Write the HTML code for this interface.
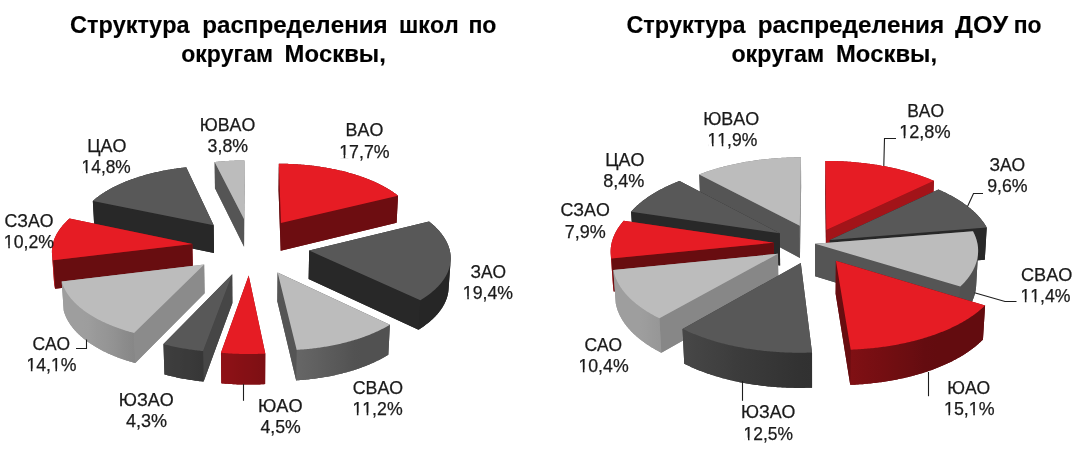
<!DOCTYPE html>
<html><head><meta charset="utf-8"><style>
html,body{margin:0;padding:0;background:#fff;width:1077px;height:449px;overflow:hidden}
svg{position:absolute;left:0;top:0;will-change:transform;font-kerning:none}
svg text{font-family:"Liberation Sans",sans-serif;font-size:17.7px;fill:#1a1a1a;stroke:#1a1a1a;stroke-width:0.25px}
svg text.b{font-size:24px;font-weight:bold;fill:#000;stroke:#000;stroke-width:0.15px}
svg polyline{fill:none;stroke:#1e1e1e;stroke-width:1.1}
</style></head><body>
<svg width="1077" height="449" viewBox="0 0 1077 449">
<defs><linearGradient id="g1" gradientUnits="userSpaceOnUse" x1="52.0" y1="0" x2="53.1" y2="0"><stop offset="0.000" stop-color="#c1171e"/><stop offset="0.041" stop-color="#c1171e"/><stop offset="0.092" stop-color="#c1171e"/><stop offset="0.153" stop-color="#c1181e"/><stop offset="0.224" stop-color="#c1181e"/><stop offset="0.305" stop-color="#c1181e"/><stop offset="0.396" stop-color="#c1181e"/><stop offset="0.497" stop-color="#c1181e"/><stop offset="0.608" stop-color="#c1181e"/><stop offset="0.728" stop-color="#c1181e"/><stop offset="0.859" stop-color="#c1181e"/><stop offset="1.000" stop-color="#c1181e"/></linearGradient><linearGradient id="g2" gradientUnits="userSpaceOnUse" x1="61.7" y1="0" x2="134.0" y2="0"><stop offset="0.000" stop-color="#9e9e9e"/><stop offset="0.031" stop-color="#9e9e9e"/><stop offset="0.072" stop-color="#9e9e9e"/><stop offset="0.126" stop-color="#9e9e9e"/><stop offset="0.200" stop-color="#9e9e9e"/><stop offset="0.280" stop-color="#9e9e9e"/><stop offset="0.371" stop-color="#9d9d9d"/><stop offset="0.474" stop-color="#999999"/><stop offset="0.600" stop-color="#969696"/><stop offset="0.725" stop-color="#929292"/><stop offset="0.858" stop-color="#8c8c8c"/><stop offset="1.000" stop-color="#878787"/></linearGradient><linearGradient id="g3" gradientUnits="userSpaceOnUse" x1="163.5" y1="0" x2="203.1" y2="0"><stop offset="0.000" stop-color="#3f3f3f"/><stop offset="0.091" stop-color="#3e3e3e"/><stop offset="0.184" stop-color="#3d3d3d"/><stop offset="0.278" stop-color="#3c3c3c"/><stop offset="0.373" stop-color="#3c3c3c"/><stop offset="0.470" stop-color="#3b3b3b"/><stop offset="0.535" stop-color="#3a3a3a"/><stop offset="0.633" stop-color="#3a3a3a"/><stop offset="0.732" stop-color="#393939"/><stop offset="0.832" stop-color="#383838"/><stop offset="0.932" stop-color="#373737"/><stop offset="1.000" stop-color="#373737"/></linearGradient><linearGradient id="g4" gradientUnits="userSpaceOnUse" x1="420.4" y1="0" x2="450.6" y2="0"><stop offset="0.000" stop-color="#262626"/><stop offset="0.178" stop-color="#262626"/><stop offset="0.317" stop-color="#262626"/><stop offset="0.464" stop-color="#262626"/><stop offset="0.576" stop-color="#262626"/><stop offset="0.676" stop-color="#262626"/><stop offset="0.775" stop-color="#262626"/><stop offset="0.846" stop-color="#262626"/><stop offset="0.904" stop-color="#262626"/><stop offset="0.955" stop-color="#262626"/><stop offset="0.984" stop-color="#262626"/><stop offset="1.000" stop-color="#262626"/></linearGradient><linearGradient id="g5" gradientUnits="userSpaceOnUse" x1="296.7" y1="0" x2="389.9" y2="0"><stop offset="0.000" stop-color="#666666"/><stop offset="0.115" stop-color="#636363"/><stop offset="0.215" stop-color="#606060"/><stop offset="0.326" stop-color="#5c5c5c"/><stop offset="0.420" stop-color="#595959"/><stop offset="0.512" stop-color="#565656"/><stop offset="0.613" stop-color="#525252"/><stop offset="0.697" stop-color="#515151"/><stop offset="0.777" stop-color="#515151"/><stop offset="0.864" stop-color="#515151"/><stop offset="0.934" stop-color="#515151"/><stop offset="1.000" stop-color="#515151"/></linearGradient><linearGradient id="g6" gradientUnits="userSpaceOnUse" x1="221.0" y1="0" x2="265.3" y2="0"><stop offset="0.000" stop-color="#8f1116"/><stop offset="0.090" stop-color="#8d1116"/><stop offset="0.180" stop-color="#8c1116"/><stop offset="0.271" stop-color="#8a1116"/><stop offset="0.362" stop-color="#881115"/><stop offset="0.453" stop-color="#871015"/><stop offset="0.544" stop-color="#851015"/><stop offset="0.635" stop-color="#841015"/><stop offset="0.727" stop-color="#821014"/><stop offset="0.818" stop-color="#801014"/><stop offset="0.909" stop-color="#7f0f14"/><stop offset="1.000" stop-color="#7d0f14"/></linearGradient><linearGradient id="g7" gradientUnits="userSpaceOnUse" x1="610.7" y1="0" x2="611.3" y2="0"><stop offset="0.000" stop-color="#c1171e"/><stop offset="0.107" stop-color="#c1171e"/><stop offset="0.238" stop-color="#c1181e"/><stop offset="0.393" stop-color="#c1181e"/><stop offset="0.571" stop-color="#c1181e"/><stop offset="0.774" stop-color="#c1181e"/><stop offset="1.000" stop-color="#c1181e"/></linearGradient><linearGradient id="g8" gradientUnits="userSpaceOnUse" x1="613.4" y1="0" x2="659.4" y2="0"><stop offset="0.000" stop-color="#9e9e9e"/><stop offset="0.027" stop-color="#9e9e9e"/><stop offset="0.067" stop-color="#9e9e9e"/><stop offset="0.122" stop-color="#9e9e9e"/><stop offset="0.191" stop-color="#9e9e9e"/><stop offset="0.273" stop-color="#9e9e9e"/><stop offset="0.355" stop-color="#9e9e9e"/><stop offset="0.462" stop-color="#9e9e9e"/><stop offset="0.584" stop-color="#9e9e9e"/><stop offset="0.718" stop-color="#9c9c9c"/><stop offset="0.865" stop-color="#999999"/><stop offset="1.000" stop-color="#979797"/></linearGradient><linearGradient id="g9" gradientUnits="userSpaceOnUse" x1="960.2" y1="0" x2="978.1" y2="0"><stop offset="0.000" stop-color="#515151"/><stop offset="0.179" stop-color="#515151"/><stop offset="0.341" stop-color="#515151"/><stop offset="0.458" stop-color="#515151"/><stop offset="0.588" stop-color="#515151"/><stop offset="0.680" stop-color="#515151"/><stop offset="0.778" stop-color="#515151"/><stop offset="0.844" stop-color="#515151"/><stop offset="0.910" stop-color="#515151"/><stop offset="0.950" stop-color="#515151"/><stop offset="0.985" stop-color="#515151"/><stop offset="1.000" stop-color="#515151"/></linearGradient><linearGradient id="g10" gradientUnits="userSpaceOnUse" x1="850.7" y1="0" x2="985.1" y2="0"><stop offset="0.000" stop-color="#801014"/><stop offset="0.117" stop-color="#7a0f13"/><stop offset="0.232" stop-color="#750e12"/><stop offset="0.343" stop-color="#6f0e11"/><stop offset="0.450" stop-color="#6a0d11"/><stop offset="0.552" stop-color="#640c10"/><stop offset="0.647" stop-color="#630c0f"/><stop offset="0.736" stop-color="#630c0f"/><stop offset="0.816" stop-color="#630c0f"/><stop offset="0.888" stop-color="#630c0f"/><stop offset="0.951" stop-color="#630c0f"/><stop offset="1.000" stop-color="#630c0f"/></linearGradient><linearGradient id="g11" gradientUnits="userSpaceOnUse" x1="682.6" y1="0" x2="812.0" y2="0"><stop offset="0.000" stop-color="#474747"/><stop offset="0.080" stop-color="#454545"/><stop offset="0.156" stop-color="#434343"/><stop offset="0.237" stop-color="#414141"/><stop offset="0.322" stop-color="#3f3f3f"/><stop offset="0.410" stop-color="#3c3c3c"/><stop offset="0.514" stop-color="#3a3a3a"/><stop offset="0.608" stop-color="#383838"/><stop offset="0.705" stop-color="#363636"/><stop offset="0.803" stop-color="#343434"/><stop offset="0.901" stop-color="#323232"/><stop offset="1.000" stop-color="#313131"/></linearGradient></defs>
<polygon points="244.54,186.70 244.07,246.78 214.98,188.29 214.64,161.99 215.69,161.88 216.75,161.77 217.80,161.67 218.86,161.58 219.91,161.48 220.97,161.39 222.03,161.31 223.09,161.23 224.16,161.15 225.22,161.08 226.28,161.01 227.35,160.94 228.42,160.88 229.48,160.82 230.55,160.77 231.62,160.72 232.69,160.68 233.76,160.63 234.83,160.60 235.90,160.56 236.97,160.53 238.05,160.51 239.12,160.49 240.19,160.47 241.26,160.45 242.34,160.44 243.41,160.44 244.48,160.44" fill="#767676"/>
<polygon points="244.00,219.11 214.64,161.99 214.98,188.29 244.07,246.78" fill="#555555"/>
<polygon points="244.00,219.11 244.48,160.44 244.54,186.70 244.07,246.78" fill="#969696"/>
<polygon points="244.00,219.11 214.64,161.99 215.69,161.88 216.75,161.77 217.80,161.67 218.86,161.58 219.91,161.48 220.97,161.39 222.03,161.31 223.09,161.23 224.16,161.15 225.22,161.08 226.28,161.01 227.35,160.94 228.42,160.88 229.48,160.82 230.55,160.77 231.62,160.72 232.69,160.68 233.76,160.63 234.83,160.60 235.90,160.56 236.97,160.53 238.05,160.51 239.12,160.49 240.19,160.47 241.26,160.45 242.34,160.44 243.41,160.44 244.48,160.44" fill="#bcbcbc"/>
<polygon points="94.36,228.16 92.83,200.92 93.38,200.44 93.94,199.96 94.50,199.48 95.08,199.01 95.66,198.53 96.25,198.07 96.84,197.60 97.45,197.13 98.06,196.67 98.68,196.21 99.31,195.76 99.95,195.30 100.59,194.85 101.24,194.40 101.90,193.96 102.56,193.51 103.24,193.07 103.92,192.63 104.61,192.20 105.30,191.77 106.00,191.34 106.71,190.91 107.43,190.49 108.15,190.07 108.88,189.65 109.62,189.24 110.36,188.83 111.11,188.42 111.86,188.01 112.63,187.61 113.40,187.21 114.17,186.82 114.96,186.43 115.75,186.04 116.54,185.65 117.34,185.27 118.15,184.89 118.96,184.51 119.78,184.14 120.61,183.77 121.44,183.40 122.28,183.04 123.12,182.68 123.97,182.32 124.82,181.97 125.68,181.62 126.55,181.27 127.42,180.93 128.30,180.59 129.18,180.26 130.07,179.92 130.96,179.60 131.86,179.27 132.76,178.95 133.67,178.63 134.58,178.32 135.50,178.01 136.42,177.70 137.35,177.39 138.28,177.09 139.21,176.80 140.16,176.51 141.10,176.22 142.05,175.93 143.01,175.65 143.96,175.37 144.93,175.10 145.90,174.83 146.87,174.56 147.84,174.30 148.82,174.04 149.81,173.78 150.79,173.53 151.78,173.28 152.78,173.04 153.78,172.80 154.78,172.56 155.79,172.33 156.80,172.10 157.81,171.88 158.83,171.66 159.84,171.44 160.87,171.23 161.89,171.02 162.92,170.82 163.95,170.61 164.99,170.42 166.03,170.22 167.07,170.04 168.11,169.85 169.16,169.67 170.21,169.49 171.26,169.32 172.31,169.15 173.37,168.99 174.43,168.83 175.49,168.67 176.55,168.52 177.62,168.37 178.69,168.22 179.76,168.08 180.83,167.94 181.90,167.81 182.98,167.68 184.06,167.56 185.14,167.44 186.22,167.32 213.67,225.27 214.04,253.08" fill="#282828"/>
<polygon points="213.67,225.27 92.83,200.92 94.36,228.16 214.04,253.08" fill="#282828"/>
<polygon points="213.67,225.27 92.83,200.92 93.38,200.44 93.94,199.96 94.50,199.48 95.08,199.01 95.66,198.53 96.25,198.07 96.84,197.60 97.45,197.13 98.06,196.67 98.68,196.21 99.31,195.76 99.95,195.30 100.59,194.85 101.24,194.40 101.90,193.96 102.56,193.51 103.24,193.07 103.92,192.63 104.61,192.20 105.30,191.77 106.00,191.34 106.71,190.91 107.43,190.49 108.15,190.07 108.88,189.65 109.62,189.24 110.36,188.83 111.11,188.42 111.86,188.01 112.63,187.61 113.40,187.21 114.17,186.82 114.96,186.43 115.75,186.04 116.54,185.65 117.34,185.27 118.15,184.89 118.96,184.51 119.78,184.14 120.61,183.77 121.44,183.40 122.28,183.04 123.12,182.68 123.97,182.32 124.82,181.97 125.68,181.62 126.55,181.27 127.42,180.93 128.30,180.59 129.18,180.26 130.07,179.92 130.96,179.60 131.86,179.27 132.76,178.95 133.67,178.63 134.58,178.32 135.50,178.01 136.42,177.70 137.35,177.39 138.28,177.09 139.21,176.80 140.16,176.51 141.10,176.22 142.05,175.93 143.01,175.65 143.96,175.37 144.93,175.10 145.90,174.83 146.87,174.56 147.84,174.30 148.82,174.04 149.81,173.78 150.79,173.53 151.78,173.28 152.78,173.04 153.78,172.80 154.78,172.56 155.79,172.33 156.80,172.10 157.81,171.88 158.83,171.66 159.84,171.44 160.87,171.23 161.89,171.02 162.92,170.82 163.95,170.61 164.99,170.42 166.03,170.22 167.07,170.04 168.11,169.85 169.16,169.67 170.21,169.49 171.26,169.32 172.31,169.15 173.37,168.99 174.43,168.83 175.49,168.67 176.55,168.52 177.62,168.37 178.69,168.22 179.76,168.08 180.83,167.94 181.90,167.81 182.98,167.68 184.06,167.56 185.14,167.44 186.22,167.32" fill="#585858"/>
<polygon points="192.93,272.26 55.12,288.77 54.97,288.17 54.83,287.57 54.70,286.97 54.58,286.37 54.47,285.77 54.37,285.17 54.28,284.57 54.20,283.97 54.14,283.37 54.08,282.77 54.03,282.17 51.99,253.71 51.96,253.13 51.93,252.54 51.92,251.95 51.92,251.37 51.93,250.78 51.95,250.19 51.97,249.61 52.02,249.02 52.07,248.43 52.13,247.85 52.20,247.27 52.28,246.68 52.37,246.10 52.48,245.52 52.59,244.93 52.71,244.35 52.85,243.77 52.99,243.19 53.15,242.61 53.31,242.04 53.49,241.46 53.67,240.88 53.87,240.31 54.07,239.73 54.29,239.16 54.51,238.59 54.75,238.02 54.99,237.45 55.25,236.88 55.51,236.32 55.79,235.75 56.07,235.19 56.37,234.62 56.67,234.06 56.98,233.50 57.31,232.94 57.64,232.39 57.98,231.83 58.33,231.28 58.70,230.73 59.07,230.18 59.45,229.63 59.83,229.08 60.23,228.54 60.64,228.00 61.06,227.45 61.48,226.92 61.92,226.38 62.36,225.84 62.82,225.31 63.28,224.78 63.75,224.25 64.23,223.72 64.72,223.20 65.21,222.68 65.72,222.16 66.23,221.64 66.76,221.12 67.29,220.61 67.83,220.10 68.38,219.59 68.93,219.08 69.50,218.58 192.34,244.02" fill="#941217"/>
<polygon points="192.34,244.02 53.07,260.17 55.12,288.77 192.93,272.26" fill="#680d10"/>
<polygon points="53.07,260.17 52.92,259.58 52.78,259.00 52.65,258.41 52.53,257.83 52.42,257.24 52.32,256.65 52.23,256.06 52.16,255.48 52.09,254.89 52.03,254.30 51.99,253.71 54.03,282.17 54.08,282.77 54.14,283.37 54.20,283.97 54.28,284.57 54.37,285.17 54.47,285.77 54.58,286.37 54.70,286.97 54.83,287.57 54.97,288.17 55.12,288.77" fill="url(#g1)"/>
<polygon points="192.34,244.02 53.07,260.17 52.92,259.58 52.78,259.00 52.65,258.41 52.53,257.83 52.42,257.24 52.32,256.65 52.23,256.06 52.16,255.48 52.09,254.89 52.03,254.30 51.99,253.71 51.96,253.13 51.93,252.54 51.92,251.95 51.92,251.37 51.93,250.78 51.95,250.19 51.97,249.61 52.02,249.02 52.07,248.43 52.13,247.85 52.20,247.27 52.28,246.68 52.37,246.10 52.48,245.52 52.59,244.93 52.71,244.35 52.85,243.77 52.99,243.19 53.15,242.61 53.31,242.04 53.49,241.46 53.67,240.88 53.87,240.31 54.07,239.73 54.29,239.16 54.51,238.59 54.75,238.02 54.99,237.45 55.25,236.88 55.51,236.32 55.79,235.75 56.07,235.19 56.37,234.62 56.67,234.06 56.98,233.50 57.31,232.94 57.64,232.39 57.98,231.83 58.33,231.28 58.70,230.73 59.07,230.18 59.45,229.63 59.83,229.08 60.23,228.54 60.64,228.00 61.06,227.45 61.48,226.92 61.92,226.38 62.36,225.84 62.82,225.31 63.28,224.78 63.75,224.25 64.23,223.72 64.72,223.20 65.21,222.68 65.72,222.16 66.23,221.64 66.76,221.12 67.29,220.61 67.83,220.10 68.38,219.59 68.93,219.08 69.50,218.58" fill="#e61c24"/>
<polygon points="204.64,293.24 135.33,363.05 134.18,362.74 133.03,362.42 131.89,362.09 130.75,361.76 129.63,361.42 128.51,361.08 127.39,360.74 126.29,360.38 125.19,360.02 124.10,359.66 123.01,359.29 121.94,358.92 120.87,358.54 119.80,358.16 118.75,357.77 117.70,357.38 116.67,356.98 115.63,356.58 114.61,356.17 113.60,355.76 112.59,355.34 111.59,354.92 110.61,354.50 109.62,354.07 108.65,353.63 107.69,353.19 106.73,352.75 105.79,352.30 104.85,351.85 103.92,351.39 103.00,350.93 102.09,350.46 101.19,349.99 100.30,349.52 99.41,349.04 98.54,348.56 97.67,348.08 96.82,347.59 95.97,347.09 95.14,346.60 94.31,346.09 93.50,345.59 92.69,345.08 91.89,344.57 91.10,344.06 90.33,343.54 89.56,343.01 88.80,342.49 88.05,341.96 87.32,341.43 86.59,340.89 85.87,340.35 85.17,339.81 84.47,339.27 83.78,338.72 83.11,338.17 82.44,337.62 81.79,337.06 81.14,336.50 80.51,335.94 79.89,335.37 79.27,334.81 78.67,334.24 78.08,333.66 77.50,333.09 76.93,332.51 76.37,331.93 75.82,331.35 75.28,330.76 74.76,330.18 74.24,329.59 73.74,329.00 73.24,328.40 72.76,327.81 72.29,327.21 71.82,326.61 71.37,326.01 70.93,325.41 70.51,324.81 70.09,324.20 69.68,323.59 69.29,322.98 68.90,322.37 68.53,321.76 68.17,321.15 67.82,320.53 67.48,319.92 67.15,319.30 66.83,318.68 66.52,318.06 66.23,317.44 65.94,316.82 65.67,316.20 65.41,315.57 65.16,314.95 64.92,314.32 64.69,313.70 64.47,313.07 64.26,312.44 64.07,311.81 63.88,311.18 63.71,310.55 61.70,281.49 204.15,264.55" fill="#949494"/>
<polygon points="204.15,264.55 134.02,332.91 135.33,363.05 204.64,293.24" fill="#8b8b8b"/>
<polygon points="134.02,332.91 132.85,332.60 131.69,332.28 130.54,331.96 129.39,331.64 128.25,331.31 127.12,330.97 126.00,330.63 124.88,330.29 123.77,329.94 122.66,329.58 121.57,329.22 120.48,328.86 119.40,328.49 118.33,328.11 117.26,327.73 116.20,327.34 115.15,326.96 114.11,326.56 113.08,326.16 112.05,325.76 111.04,325.35 110.03,324.94 109.03,324.52 108.04,324.10 107.05,323.67 106.08,323.24 105.12,322.81 104.16,322.37 103.21,321.92 102.27,321.48 101.34,321.02 100.42,320.57 99.51,320.11 98.61,319.64 97.72,319.18 96.84,318.70 95.96,318.23 95.10,317.75 94.25,317.27 93.40,316.78 92.57,316.29 91.74,315.80 90.93,315.30 90.12,314.80 89.33,314.29 88.54,313.78 87.77,313.27 87.00,312.76 86.25,312.24 85.50,311.72 84.77,311.19 84.05,310.67 83.33,310.14 82.63,309.60 81.94,309.07 81.25,308.53 80.58,307.98 79.92,307.44 79.27,306.89 78.63,306.34 78.00,305.79 77.38,305.23 76.78,304.67 76.18,304.11 75.59,303.55 75.02,302.98 74.45,302.42 73.90,301.85 73.36,301.27 72.83,300.70 72.31,300.12 71.80,299.54 71.30,298.96 70.81,298.38 70.33,297.80 69.87,297.21 69.42,296.62 68.97,296.03 68.54,295.44 68.12,294.85 67.71,294.25 67.31,293.66 66.93,293.06 66.55,292.46 66.18,291.86 65.83,291.26 65.49,290.65 65.16,290.05 64.84,289.44 64.53,288.84 64.23,288.23 63.95,287.62 63.67,287.01 63.41,286.40 63.15,285.79 62.91,285.18 62.68,284.56 62.46,283.95 62.26,283.33 62.06,282.72 61.88,282.10 61.70,281.49 63.71,310.55 63.88,311.18 64.07,311.81 64.26,312.44 64.47,313.07 64.69,313.70 64.92,314.32 65.16,314.95 65.41,315.57 65.67,316.20 65.94,316.82 66.23,317.44 66.52,318.06 66.83,318.68 67.15,319.30 67.48,319.92 67.82,320.53 68.17,321.15 68.53,321.76 68.90,322.37 69.29,322.98 69.68,323.59 70.09,324.20 70.51,324.81 70.93,325.41 71.37,326.01 71.82,326.61 72.29,327.21 72.76,327.81 73.24,328.40 73.74,329.00 74.24,329.59 74.76,330.18 75.28,330.76 75.82,331.35 76.37,331.93 76.93,332.51 77.50,333.09 78.08,333.66 78.67,334.24 79.27,334.81 79.89,335.37 80.51,335.94 81.14,336.50 81.79,337.06 82.44,337.62 83.11,338.17 83.78,338.72 84.47,339.27 85.17,339.81 85.87,340.35 86.59,340.89 87.32,341.43 88.05,341.96 88.80,342.49 89.56,343.01 90.33,343.54 91.10,344.06 91.89,344.57 92.69,345.08 93.50,345.59 94.31,346.09 95.14,346.60 95.97,347.09 96.82,347.59 97.67,348.08 98.54,348.56 99.41,349.04 100.30,349.52 101.19,349.99 102.09,350.46 103.00,350.93 103.92,351.39 104.85,351.85 105.79,352.30 106.73,352.75 107.69,353.19 108.65,353.63 109.62,354.07 110.61,354.50 111.59,354.92 112.59,355.34 113.60,355.76 114.61,356.17 115.63,356.58 116.67,356.98 117.70,357.38 118.75,357.77 119.80,358.16 120.87,358.54 121.94,358.92 123.01,359.29 124.10,359.66 125.19,360.02 126.29,360.38 127.39,360.74 128.51,361.08 129.63,361.42 130.75,361.76 131.89,362.09 133.03,362.42 134.18,362.74 135.33,363.05" fill="url(#g2)"/>
<polygon points="204.15,264.55 134.02,332.91 132.85,332.60 131.69,332.28 130.54,331.96 129.39,331.64 128.25,331.31 127.12,330.97 126.00,330.63 124.88,330.29 123.77,329.94 122.66,329.58 121.57,329.22 120.48,328.86 119.40,328.49 118.33,328.11 117.26,327.73 116.20,327.34 115.15,326.96 114.11,326.56 113.08,326.16 112.05,325.76 111.04,325.35 110.03,324.94 109.03,324.52 108.04,324.10 107.05,323.67 106.08,323.24 105.12,322.81 104.16,322.37 103.21,321.92 102.27,321.48 101.34,321.02 100.42,320.57 99.51,320.11 98.61,319.64 97.72,319.18 96.84,318.70 95.96,318.23 95.10,317.75 94.25,317.27 93.40,316.78 92.57,316.29 91.74,315.80 90.93,315.30 90.12,314.80 89.33,314.29 88.54,313.78 87.77,313.27 87.00,312.76 86.25,312.24 85.50,311.72 84.77,311.19 84.05,310.67 83.33,310.14 82.63,309.60 81.94,309.07 81.25,308.53 80.58,307.98 79.92,307.44 79.27,306.89 78.63,306.34 78.00,305.79 77.38,305.23 76.78,304.67 76.18,304.11 75.59,303.55 75.02,302.98 74.45,302.42 73.90,301.85 73.36,301.27 72.83,300.70 72.31,300.12 71.80,299.54 71.30,298.96 70.81,298.38 70.33,297.80 69.87,297.21 69.42,296.62 68.97,296.03 68.54,295.44 68.12,294.85 67.71,294.25 67.31,293.66 66.93,293.06 66.55,292.46 66.18,291.86 65.83,291.26 65.49,290.65 65.16,290.05 64.84,289.44 64.53,288.84 64.23,288.23 63.95,287.62 63.67,287.01 63.41,286.40 63.15,285.79 62.91,285.18 62.68,284.56 62.46,283.95 62.26,283.33 62.06,282.72 61.88,282.10 61.70,281.49" fill="#bcbcbc"/>
<polygon points="232.40,303.06 203.64,381.55 202.32,381.42 201.00,381.27 199.68,381.13 198.36,380.97 197.05,380.81 195.74,380.64 194.43,380.47 193.13,380.29 191.83,380.10 190.54,379.91 189.25,379.71 187.96,379.51 186.68,379.30 185.40,379.08 184.13,378.85 182.86,378.63 181.59,378.39 180.33,378.15 179.08,377.90 177.83,377.65 176.59,377.39 175.35,377.12 174.11,376.85 172.88,376.57 171.66,376.29 170.44,376.00 169.23,375.70 168.03,375.40 166.83,375.09 165.64,374.78 164.45,374.46 163.46,344.09 232.20,274.16" fill="#414141"/>
<polygon points="232.20,274.16 203.10,351.04 203.64,381.55 232.40,303.06" fill="#464646"/>
<polygon points="203.10,351.04 201.76,350.90 200.42,350.76 199.09,350.62 197.75,350.47 196.43,350.31 195.10,350.15 193.78,349.98 192.47,349.80 191.15,349.62 189.84,349.43 188.54,349.23 187.24,349.03 185.94,348.82 184.65,348.61 183.36,348.39 182.08,348.17 180.80,347.94 179.52,347.70 178.25,347.46 176.99,347.21 175.73,346.95 174.48,346.69 173.23,346.43 171.99,346.15 170.75,345.88 169.52,345.59 168.30,345.30 167.08,345.01 165.86,344.71 164.66,344.40 163.46,344.09 164.45,374.46 165.64,374.78 166.83,375.09 168.03,375.40 169.23,375.70 170.44,376.00 171.66,376.29 172.88,376.57 174.11,376.85 175.35,377.12 176.59,377.39 177.83,377.65 179.08,377.90 180.33,378.15 181.59,378.39 182.86,378.63 184.13,378.85 185.40,379.08 186.68,379.30 187.96,379.51 189.25,379.71 190.54,379.91 191.83,380.10 193.13,380.29 194.43,380.47 195.74,380.64 197.05,380.81 198.36,380.97 199.68,381.13 201.00,381.27 202.32,381.42 203.64,381.55" fill="url(#g3)"/>
<polygon points="232.20,274.16 203.10,351.04 201.76,350.90 200.42,350.76 199.09,350.62 197.75,350.47 196.43,350.31 195.10,350.15 193.78,349.98 192.47,349.80 191.15,349.62 189.84,349.43 188.54,349.23 187.24,349.03 185.94,348.82 184.65,348.61 183.36,348.39 182.08,348.17 180.80,347.94 179.52,347.70 178.25,347.46 176.99,347.21 175.73,346.95 174.48,346.69 173.23,346.43 171.99,346.15 170.75,345.88 169.52,345.59 168.30,345.30 167.08,345.01 165.86,344.71 164.66,344.40 163.46,344.09" fill="#585858"/>
<polygon points="280.67,250.69 278.56,190.08 278.82,163.74 279.92,163.74 281.02,163.75 282.12,163.76 283.22,163.77 284.31,163.79 285.41,163.81 286.51,163.84 287.61,163.87 288.70,163.91 289.80,163.95 290.90,163.99 291.99,164.04 293.09,164.09 294.18,164.15 295.28,164.21 296.37,164.27 297.46,164.34 298.55,164.41 299.64,164.49 300.73,164.57 301.82,164.65 302.91,164.74 303.99,164.83 305.07,164.93 306.16,165.03 307.24,165.14 308.32,165.25 309.40,165.36 310.47,165.48 311.55,165.60 312.62,165.73 313.69,165.86 314.76,165.99 315.82,166.13 316.89,166.27 317.95,166.42 319.01,166.57 320.07,166.72 321.13,166.88 322.18,167.04 323.23,167.21 324.28,167.38 325.32,167.55 326.37,167.73 327.41,167.91 328.45,168.10 329.48,168.29 330.51,168.48 331.54,168.68 332.57,168.88 333.59,169.09 334.61,169.30 335.63,169.51 336.64,169.73 337.65,169.95 338.66,170.17 339.66,170.40 340.66,170.64 341.65,170.87 342.65,171.11 343.63,171.36 344.62,171.61 345.60,171.86 346.57,172.11 347.55,172.37 348.52,172.64 349.48,172.90 350.44,173.17 351.40,173.45 352.35,173.73 353.29,174.01 354.24,174.29 355.18,174.58 356.11,174.88 357.04,175.17 357.96,175.47 358.88,175.78 359.80,176.08 360.71,176.40 361.61,176.71 362.51,177.03 363.41,177.35 364.30,177.67 365.18,178.00 366.06,178.34 366.93,178.67 367.80,179.01 368.66,179.35 369.52,179.70 370.37,180.05 371.22,180.40 372.06,180.76 372.89,181.12 373.72,181.48 374.55,181.84 375.36,182.21 376.17,182.59 376.98,182.96 377.78,183.34 378.57,183.72 379.36,184.11 380.14,184.50 380.91,184.89 381.68,185.29 382.44,185.68 383.19,186.08 383.94,186.49 384.68,186.90 385.41,187.31 386.14,187.72 386.86,188.14 387.58,188.55 388.28,188.98 388.98,189.40 389.67,189.83 390.36,190.26 391.04,190.69 391.71,191.13 392.37,191.57 393.03,192.01 393.68,192.46 394.32,192.90 394.95,193.35 395.58,193.81 396.20,194.26 396.81,194.72 397.41,195.18 398.01,195.65 396.59,222.76" fill="#6a0d11"/>
<polygon points="280.97,222.94 278.82,163.74 278.56,190.08 280.67,250.69" fill="#680d10"/>
<polygon points="280.97,222.94 398.01,195.65 396.59,222.76 280.67,250.69" fill="#6d0d11"/>
<polygon points="280.97,222.94 278.82,163.74 279.92,163.74 281.02,163.75 282.12,163.76 283.22,163.77 284.31,163.79 285.41,163.81 286.51,163.84 287.61,163.87 288.70,163.91 289.80,163.95 290.90,163.99 291.99,164.04 293.09,164.09 294.18,164.15 295.28,164.21 296.37,164.27 297.46,164.34 298.55,164.41 299.64,164.49 300.73,164.57 301.82,164.65 302.91,164.74 303.99,164.83 305.07,164.93 306.16,165.03 307.24,165.14 308.32,165.25 309.40,165.36 310.47,165.48 311.55,165.60 312.62,165.73 313.69,165.86 314.76,165.99 315.82,166.13 316.89,166.27 317.95,166.42 319.01,166.57 320.07,166.72 321.13,166.88 322.18,167.04 323.23,167.21 324.28,167.38 325.32,167.55 326.37,167.73 327.41,167.91 328.45,168.10 329.48,168.29 330.51,168.48 331.54,168.68 332.57,168.88 333.59,169.09 334.61,169.30 335.63,169.51 336.64,169.73 337.65,169.95 338.66,170.17 339.66,170.40 340.66,170.64 341.65,170.87 342.65,171.11 343.63,171.36 344.62,171.61 345.60,171.86 346.57,172.11 347.55,172.37 348.52,172.64 349.48,172.90 350.44,173.17 351.40,173.45 352.35,173.73 353.29,174.01 354.24,174.29 355.18,174.58 356.11,174.88 357.04,175.17 357.96,175.47 358.88,175.78 359.80,176.08 360.71,176.40 361.61,176.71 362.51,177.03 363.41,177.35 364.30,177.67 365.18,178.00 366.06,178.34 366.93,178.67 367.80,179.01 368.66,179.35 369.52,179.70 370.37,180.05 371.22,180.40 372.06,180.76 372.89,181.12 373.72,181.48 374.55,181.84 375.36,182.21 376.17,182.59 376.98,182.96 377.78,183.34 378.57,183.72 379.36,184.11 380.14,184.50 380.91,184.89 381.68,185.29 382.44,185.68 383.19,186.08 383.94,186.49 384.68,186.90 385.41,187.31 386.14,187.72 386.86,188.14 387.58,188.55 388.28,188.98 388.98,189.40 389.67,189.83 390.36,190.26 391.04,190.69 391.71,191.13 392.37,191.57 393.03,192.01 393.68,192.46 394.32,192.90 394.95,193.35 395.58,193.81 396.20,194.26 396.81,194.72 397.41,195.18 398.01,195.65" fill="#e61c24"/>
<polygon points="418.53,329.67 308.61,278.98 309.20,250.60 429.05,221.49 429.67,221.99 430.29,222.49 430.90,222.99 431.50,223.50 432.10,224.01 432.68,224.52 433.26,225.03 433.83,225.54 434.39,226.06 434.94,226.58 435.48,227.11 436.01,227.63 436.54,228.16 437.06,228.69 437.57,229.22 438.06,229.75 438.55,230.29 439.04,230.83 439.51,231.37 439.97,231.91 440.43,232.46 440.87,233.01 441.31,233.56 441.73,234.11 442.15,234.66 442.56,235.22 442.96,235.77 443.35,236.33 443.73,236.89 444.10,237.45 444.46,238.02 444.81,238.58 445.15,239.15 445.48,239.72 445.80,240.29 446.11,240.86 446.41,241.44 446.71,242.01 446.99,242.59 447.26,243.17 447.52,243.75 447.78,244.33 448.02,244.91 448.25,245.49 448.47,246.08 448.68,246.66 448.88,247.25 449.07,247.84 449.26,248.43 449.43,249.02 449.59,249.61 449.74,250.20 449.87,250.79 450.00,251.38 450.12,251.98 450.23,252.57 450.33,253.17 450.41,253.76 450.49,254.36 450.55,254.96 450.61,255.55 450.65,256.15 450.68,256.75 450.71,257.35 450.72,257.95 450.72,258.55 450.71,259.15 450.69,259.75 450.66,260.35 450.61,260.95 448.54,289.56 448.49,290.17 448.42,290.79 448.34,291.40 448.26,292.01 448.16,292.63 448.05,293.24 447.93,293.85 447.80,294.46 447.66,295.08 447.50,295.69 447.34,296.30 447.17,296.91 446.98,297.52 446.79,298.13 446.58,298.74 446.36,299.34 446.13,299.95 445.89,300.56 445.64,301.16 445.38,301.77 445.10,302.37 444.82,302.97 444.52,303.57 444.22,304.17 443.90,304.77 443.57,305.37 443.23,305.97 442.88,306.56 442.52,307.16 442.15,307.75 441.77,308.34 441.37,308.93 440.97,309.52 440.55,310.10 440.13,310.69 439.69,311.27 439.24,311.85 438.78,312.43 438.31,313.01 437.83,313.58 437.34,314.15 436.84,314.73 436.32,315.29 435.80,315.86 435.27,316.43 434.72,316.99 434.17,317.55 433.60,318.11 433.02,318.66 432.43,319.21 431.84,319.76 431.23,320.31 430.61,320.86 429.98,321.40 429.34,321.94 428.69,322.47 428.03,323.01 427.36,323.54 426.68,324.07 425.99,324.59 425.29,325.11 424.57,325.63 423.85,326.15 423.12,326.66 422.38,327.17 421.63,327.68 420.87,328.18 420.10,328.68 419.32,329.17" fill="#272727"/>
<polygon points="309.20,250.60 420.36,300.20 418.53,329.67 308.61,278.98" fill="#282828"/>
<polygon points="450.61,260.95 450.56,261.55 450.49,262.15 450.42,262.75 450.33,263.35 450.23,263.95 450.13,264.54 450.01,265.14 449.88,265.74 449.73,266.34 449.58,266.94 449.42,267.54 449.24,268.13 449.06,268.73 448.86,269.33 448.65,269.92 448.43,270.52 448.20,271.11 447.96,271.70 447.71,272.30 447.44,272.89 447.17,273.48 446.88,274.07 446.59,274.66 446.28,275.24 445.96,275.83 445.63,276.41 445.29,277.00 444.94,277.58 444.57,278.16 444.20,278.74 443.81,279.32 443.42,279.90 443.01,280.47 442.59,281.05 442.16,281.62 441.72,282.19 441.27,282.76 440.80,283.32 440.33,283.89 439.85,284.45 439.35,285.01 438.84,285.57 438.33,286.13 437.80,286.68 437.26,287.24 436.71,287.79 436.15,288.33 435.58,288.88 434.99,289.42 434.40,289.96 433.80,290.50 433.19,291.04 432.56,291.57 431.93,292.10 431.28,292.63 430.62,293.16 429.96,293.68 429.28,294.20 428.59,294.72 427.90,295.23 427.19,295.74 426.47,296.25 425.74,296.76 425.00,297.26 424.26,297.76 423.50,298.25 422.73,298.74 421.95,299.23 421.16,299.72 420.36,300.20 418.53,329.67 419.32,329.17 420.10,328.68 420.87,328.18 421.63,327.68 422.38,327.17 423.12,326.66 423.85,326.15 424.57,325.63 425.29,325.11 425.99,324.59 426.68,324.07 427.36,323.54 428.03,323.01 428.69,322.47 429.34,321.94 429.98,321.40 430.61,320.86 431.23,320.31 431.84,319.76 432.43,319.21 433.02,318.66 433.60,318.11 434.17,317.55 434.72,316.99 435.27,316.43 435.80,315.86 436.32,315.29 436.84,314.73 437.34,314.15 437.83,313.58 438.31,313.01 438.78,312.43 439.24,311.85 439.69,311.27 440.13,310.69 440.55,310.10 440.97,309.52 441.37,308.93 441.77,308.34 442.15,307.75 442.52,307.16 442.88,306.56 443.23,305.97 443.57,305.37 443.90,304.77 444.22,304.17 444.52,303.57 444.82,302.97 445.10,302.37 445.38,301.77 445.64,301.16 445.89,300.56 446.13,299.95 446.36,299.34 446.58,298.74 446.79,298.13 446.98,297.52 447.17,296.91 447.34,296.30 447.50,295.69 447.66,295.08 447.80,294.46 447.93,293.85 448.05,293.24 448.16,292.63 448.26,292.01 448.34,291.40 448.42,290.79 448.49,290.17 448.54,289.56" fill="url(#g4)"/>
<polygon points="309.20,250.60 429.05,221.49 429.67,221.99 430.29,222.49 430.90,222.99 431.50,223.50 432.10,224.01 432.68,224.52 433.26,225.03 433.83,225.54 434.39,226.06 434.94,226.58 435.48,227.11 436.01,227.63 436.54,228.16 437.06,228.69 437.57,229.22 438.06,229.75 438.55,230.29 439.04,230.83 439.51,231.37 439.97,231.91 440.43,232.46 440.87,233.01 441.31,233.56 441.73,234.11 442.15,234.66 442.56,235.22 442.96,235.77 443.35,236.33 443.73,236.89 444.10,237.45 444.46,238.02 444.81,238.58 445.15,239.15 445.48,239.72 445.80,240.29 446.11,240.86 446.41,241.44 446.71,242.01 446.99,242.59 447.26,243.17 447.52,243.75 447.78,244.33 448.02,244.91 448.25,245.49 448.47,246.08 448.68,246.66 448.88,247.25 449.07,247.84 449.26,248.43 449.43,249.02 449.59,249.61 449.74,250.20 449.87,250.79 450.00,251.38 450.12,251.98 450.23,252.57 450.33,253.17 450.41,253.76 450.49,254.36 450.55,254.96 450.61,255.55 450.65,256.15 450.68,256.75 450.71,257.35 450.72,257.95 450.72,258.55 450.71,259.15 450.69,259.75 450.66,260.35 450.61,260.95 450.56,261.55 450.49,262.15 450.42,262.75 450.33,263.35 450.23,263.95 450.13,264.54 450.01,265.14 449.88,265.74 449.73,266.34 449.58,266.94 449.42,267.54 449.24,268.13 449.06,268.73 448.86,269.33 448.65,269.92 448.43,270.52 448.20,271.11 447.96,271.70 447.71,272.30 447.44,272.89 447.17,273.48 446.88,274.07 446.59,274.66 446.28,275.24 445.96,275.83 445.63,276.41 445.29,277.00 444.94,277.58 444.57,278.16 444.20,278.74 443.81,279.32 443.42,279.90 443.01,280.47 442.59,281.05 442.16,281.62 441.72,282.19 441.27,282.76 440.80,283.32 440.33,283.89 439.85,284.45 439.35,285.01 438.84,285.57 438.33,286.13 437.80,286.68 437.26,287.24 436.71,287.79 436.15,288.33 435.58,288.88 434.99,289.42 434.40,289.96 433.80,290.50 433.19,291.04 432.56,291.57 431.93,292.10 431.28,292.63 430.62,293.16 429.96,293.68 429.28,294.20 428.59,294.72 427.90,295.23 427.19,295.74 426.47,296.25 425.74,296.76 425.00,297.26 424.26,297.76 423.50,298.25 422.73,298.74 421.95,299.23 421.16,299.72 420.36,300.20" fill="#585858"/>
<polygon points="296.17,380.38 277.33,301.36 277.61,272.49 389.90,324.72 388.35,354.70 387.52,355.22 386.67,355.73 385.82,356.23 384.95,356.74 384.08,357.24 383.19,357.73 382.30,358.22 381.40,358.71 380.49,359.19 379.57,359.67 378.64,360.14 377.70,360.61 376.75,361.08 375.79,361.54 374.83,362.00 373.85,362.45 372.87,362.90 371.88,363.34 370.88,363.78 369.87,364.21 368.85,364.64 367.83,365.07 366.80,365.49 365.75,365.90 364.70,366.31 363.65,366.72 362.58,367.12 361.51,367.51 360.43,367.90 359.34,368.29 358.24,368.67 357.14,369.04 356.03,369.41 354.91,369.78 353.79,370.14 352.65,370.49 351.52,370.84 350.37,371.18 349.22,371.52 348.06,371.85 346.89,372.18 345.72,372.50 344.54,372.81 343.36,373.12 342.17,373.43 340.97,373.73 339.77,374.02 338.56,374.31 337.34,374.59 336.13,374.86 334.90,375.13 333.67,375.40 332.43,375.66 331.19,375.91 329.95,376.15 328.70,376.39 327.44,376.63 326.18,376.86 324.91,377.08 323.64,377.29 322.37,377.50 321.09,377.71 319.81,377.90 318.53,378.09 317.24,378.28 315.94,378.46 314.64,378.63 313.34,378.80 312.04,378.96 310.73,379.11 309.42,379.26 308.11,379.40 306.79,379.53 305.47,379.66 304.15,379.78 302.83,379.90 301.50,380.01 300.17,380.11 298.84,380.21 297.51,380.30" fill="#545454"/>
<polygon points="277.61,272.49 296.69,349.89 296.17,380.38 277.33,301.36" fill="#555555"/>
<polygon points="389.90,324.72 389.06,325.23 388.20,325.73 387.34,326.22 386.46,326.71 385.58,327.20 384.69,327.69 383.79,328.17 382.87,328.65 381.95,329.12 381.02,329.59 380.08,330.05 379.14,330.51 378.18,330.97 377.21,331.42 376.23,331.87 375.25,332.31 374.26,332.75 373.25,333.19 372.24,333.62 371.22,334.04 370.20,334.46 369.16,334.88 368.12,335.29 367.06,335.70 366.00,336.10 364.93,336.49 363.86,336.89 362.77,337.27 361.68,337.66 360.58,338.03 359.47,338.41 358.35,338.77 357.23,339.14 356.10,339.49 354.96,339.85 353.82,340.19 352.67,340.53 351.51,340.87 350.34,341.20 349.17,341.53 347.99,341.85 346.81,342.16 345.62,342.47 344.42,342.78 343.22,343.07 342.01,343.37 340.79,343.65 339.57,343.94 338.34,344.21 337.11,344.48 335.87,344.75 334.62,345.00 333.37,345.26 332.12,345.50 330.86,345.74 329.59,345.98 328.32,346.21 327.05,346.43 325.77,346.65 324.48,346.86 323.20,347.07 321.90,347.27 320.61,347.46 319.31,347.65 318.00,347.83 316.69,348.00 315.38,348.17 314.07,348.34 312.75,348.49 311.42,348.64 310.10,348.79 308.77,348.93 307.44,349.06 306.10,349.18 304.77,349.30 303.43,349.42 302.08,349.52 300.74,349.62 299.39,349.72 298.05,349.81 296.69,349.89 296.17,380.38 297.51,380.30 298.84,380.21 300.17,380.11 301.50,380.01 302.83,379.90 304.15,379.78 305.47,379.66 306.79,379.53 308.11,379.40 309.42,379.26 310.73,379.11 312.04,378.96 313.34,378.80 314.64,378.63 315.94,378.46 317.24,378.28 318.53,378.09 319.81,377.90 321.09,377.71 322.37,377.50 323.64,377.29 324.91,377.08 326.18,376.86 327.44,376.63 328.70,376.39 329.95,376.15 331.19,375.91 332.43,375.66 333.67,375.40 334.90,375.13 336.13,374.86 337.34,374.59 338.56,374.31 339.77,374.02 340.97,373.73 342.17,373.43 343.36,373.12 344.54,372.81 345.72,372.50 346.89,372.18 348.06,371.85 349.22,371.52 350.37,371.18 351.52,370.84 352.65,370.49 353.79,370.14 354.91,369.78 356.03,369.41 357.14,369.04 358.24,368.67 359.34,368.29 360.43,367.90 361.51,367.51 362.58,367.12 363.65,366.72 364.70,366.31 365.75,365.90 366.80,365.49 367.83,365.07 368.85,364.64 369.87,364.21 370.88,363.78 371.88,363.34 372.87,362.90 373.85,362.45 374.83,362.00 375.79,361.54 376.75,361.08 377.70,360.61 378.64,360.14 379.57,359.67 380.49,359.19 381.40,358.71 382.30,358.22 383.19,357.73 384.08,357.24 384.95,356.74 385.82,356.23 386.67,355.73 387.52,355.22 388.35,354.70" fill="url(#g5)"/>
<polygon points="277.61,272.49 389.90,324.72 389.06,325.23 388.20,325.73 387.34,326.22 386.46,326.71 385.58,327.20 384.69,327.69 383.79,328.17 382.87,328.65 381.95,329.12 381.02,329.59 380.08,330.05 379.14,330.51 378.18,330.97 377.21,331.42 376.23,331.87 375.25,332.31 374.26,332.75 373.25,333.19 372.24,333.62 371.22,334.04 370.20,334.46 369.16,334.88 368.12,335.29 367.06,335.70 366.00,336.10 364.93,336.49 363.86,336.89 362.77,337.27 361.68,337.66 360.58,338.03 359.47,338.41 358.35,338.77 357.23,339.14 356.10,339.49 354.96,339.85 353.82,340.19 352.67,340.53 351.51,340.87 350.34,341.20 349.17,341.53 347.99,341.85 346.81,342.16 345.62,342.47 344.42,342.78 343.22,343.07 342.01,343.37 340.79,343.65 339.57,343.94 338.34,344.21 337.11,344.48 335.87,344.75 334.62,345.00 333.37,345.26 332.12,345.50 330.86,345.74 329.59,345.98 328.32,346.21 327.05,346.43 325.77,346.65 324.48,346.86 323.20,347.07 321.90,347.27 320.61,347.46 319.31,347.65 318.00,347.83 316.69,348.00 315.38,348.17 314.07,348.34 312.75,348.49 311.42,348.64 310.10,348.79 308.77,348.93 307.44,349.06 306.10,349.18 304.77,349.30 303.43,349.42 302.08,349.52 300.74,349.62 299.39,349.72 298.05,349.81 296.69,349.89" fill="#bcbcbc"/>
<polygon points="220.96,352.73 248.68,275.59 265.29,353.56 265.12,384.12 263.79,384.20 262.47,384.27 261.14,384.33 259.81,384.39 258.48,384.44 257.15,384.49 255.81,384.52 254.48,384.56 253.15,384.58 251.81,384.60 250.48,384.61 249.14,384.62 247.81,384.62 246.48,384.61 245.14,384.60 243.81,384.58 242.47,384.55 241.14,384.52 239.81,384.48 238.48,384.44 237.15,384.39 235.82,384.33 234.49,384.27 233.16,384.20 231.84,384.12 230.52,384.04 229.19,383.95 227.87,383.85 226.55,383.75 225.24,383.64 223.92,383.53 222.61,383.40 221.30,383.28" fill="#861015"/>
<polygon points="265.29,353.56 263.94,353.63 262.60,353.70 261.26,353.76 259.91,353.82 258.57,353.87 257.22,353.91 255.87,353.95 254.52,353.98 253.17,354.01 251.83,354.03 250.48,354.04 249.13,354.04 247.78,354.04 246.43,354.04 245.08,354.02 243.73,354.01 242.38,353.98 241.03,353.95 239.68,353.91 238.34,353.87 236.99,353.82 235.65,353.76 234.30,353.70 232.96,353.63 231.62,353.55 230.28,353.47 228.94,353.38 227.61,353.29 226.27,353.19 224.94,353.08 223.61,352.97 222.29,352.85 220.96,352.73 221.30,383.28 222.61,383.40 223.92,383.53 225.24,383.64 226.55,383.75 227.87,383.85 229.19,383.95 230.52,384.04 231.84,384.12 233.16,384.20 234.49,384.27 235.82,384.33 237.15,384.39 238.48,384.44 239.81,384.48 241.14,384.52 242.47,384.55 243.81,384.58 245.14,384.60 246.48,384.61 247.81,384.62 249.14,384.62 250.48,384.61 251.81,384.60 253.15,384.58 254.48,384.56 255.81,384.52 257.15,384.49 258.48,384.44 259.81,384.39 261.14,384.33 262.47,384.27 263.79,384.20 265.12,384.12" fill="url(#g6)"/>
<polygon points="248.68,275.59 265.29,353.56 263.94,353.63 262.60,353.70 261.26,353.76 259.91,353.82 258.57,353.87 257.22,353.91 255.87,353.95 254.52,353.98 253.17,354.01 251.83,354.03 250.48,354.04 249.13,354.04 247.78,354.04 246.43,354.04 245.08,354.02 243.73,354.01 242.38,353.98 241.03,353.95 239.68,353.91 238.34,353.87 236.99,353.82 235.65,353.76 234.30,353.70 232.96,353.63 231.62,353.55 230.28,353.47 228.94,353.38 227.61,353.29 226.27,353.19 224.94,353.08 223.61,352.97 222.29,352.85 220.96,352.73" fill="#e61c24"/>
<polygon points="801.11,187.50 799.95,257.91 700.45,205.14 699.22,174.45 700.23,174.06 701.25,173.68 702.27,173.30 703.30,172.93 704.34,172.56 705.38,172.19 706.42,171.83 707.47,171.47 708.53,171.12 709.60,170.77 710.66,170.42 711.74,170.08 712.82,169.74 713.90,169.41 714.99,169.08 716.09,168.76 717.19,168.44 718.29,168.12 719.40,167.81 720.51,167.50 721.63,167.20 722.76,166.90 723.88,166.61 725.02,166.32 726.15,166.03 727.30,165.75 728.44,165.47 729.59,165.20 730.74,164.94 731.90,164.67 733.06,164.41 734.23,164.16 735.40,163.91 736.57,163.66 737.75,163.42 738.93,163.19 740.12,162.96 741.30,162.73 742.49,162.51 743.69,162.29 744.89,162.07 746.09,161.87 747.29,161.66 748.50,161.46 749.71,161.27 750.92,161.08 752.14,160.89 753.36,160.71 754.58,160.53 755.80,160.36 757.03,160.19 758.26,160.03 759.49,159.87 760.72,159.72 761.96,159.57 763.19,159.42 764.43,159.28 765.67,159.15 766.92,159.02 768.16,158.89 769.41,158.77 770.66,158.66 771.91,158.55 773.16,158.44 774.42,158.34 775.67,158.24 776.93,158.15 778.19,158.06 779.45,157.98 780.71,157.90 781.97,157.82 783.23,157.76 784.50,157.69 785.76,157.63 787.03,157.58 788.29,157.53 789.56,157.48 790.83,157.44 792.09,157.41 793.36,157.38 794.63,157.35 795.90,157.33 797.17,157.31 798.44,157.30 799.70,157.29 800.97,157.29" fill="#767676"/>
<polygon points="799.79,225.82 699.22,174.45 700.45,205.14 799.95,257.91" fill="#555555"/>
<polygon points="799.79,225.82 800.97,157.29 801.11,187.50 799.95,257.91" fill="#969696"/>
<polygon points="799.79,225.82 699.22,174.45 700.23,174.06 701.25,173.68 702.27,173.30 703.30,172.93 704.34,172.56 705.38,172.19 706.42,171.83 707.47,171.47 708.53,171.12 709.60,170.77 710.66,170.42 711.74,170.08 712.82,169.74 713.90,169.41 714.99,169.08 716.09,168.76 717.19,168.44 718.29,168.12 719.40,167.81 720.51,167.50 721.63,167.20 722.76,166.90 723.88,166.61 725.02,166.32 726.15,166.03 727.30,165.75 728.44,165.47 729.59,165.20 730.74,164.94 731.90,164.67 733.06,164.41 734.23,164.16 735.40,163.91 736.57,163.66 737.75,163.42 738.93,163.19 740.12,162.96 741.30,162.73 742.49,162.51 743.69,162.29 744.89,162.07 746.09,161.87 747.29,161.66 748.50,161.46 749.71,161.27 750.92,161.08 752.14,160.89 753.36,160.71 754.58,160.53 755.80,160.36 757.03,160.19 758.26,160.03 759.49,159.87 760.72,159.72 761.96,159.57 763.19,159.42 764.43,159.28 765.67,159.15 766.92,159.02 768.16,158.89 769.41,158.77 770.66,158.66 771.91,158.55 773.16,158.44 774.42,158.34 775.67,158.24 776.93,158.15 778.19,158.06 779.45,157.98 780.71,157.90 781.97,157.82 783.23,157.76 784.50,157.69 785.76,157.63 787.03,157.58 788.29,157.53 789.56,157.48 790.83,157.44 792.09,157.41 793.36,157.38 794.63,157.35 795.90,157.33 797.17,157.31 798.44,157.30 799.70,157.29 800.97,157.29" fill="#bcbcbc"/>
<polygon points="633.16,243.39 631.11,211.68 631.64,211.08 632.18,210.49 632.73,209.90 633.29,209.31 633.86,208.72 634.44,208.14 635.03,207.56 635.63,206.98 636.24,206.40 636.86,205.83 637.49,205.26 638.13,204.70 638.78,204.13 639.43,203.57 640.10,203.01 640.77,202.46 641.46,201.91 642.15,201.36 642.85,200.81 643.56,200.27 644.28,199.73 645.01,199.19 645.75,198.66 646.50,198.13 647.25,197.60 648.01,197.07 648.79,196.55 649.57,196.04 650.35,195.52 651.15,195.01 651.96,194.50 652.77,194.00 653.59,193.50 654.42,193.00 655.26,192.51 656.10,192.02 656.95,191.53 657.81,191.05 658.68,190.57 659.56,190.09 660.44,189.62 661.33,189.15 662.23,188.69 663.13,188.22 664.05,187.77 664.96,187.31 665.89,186.86 666.82,186.42 667.76,185.97 668.71,185.53 669.67,185.10 670.63,184.67 671.59,184.24 672.57,183.82 673.55,183.40 674.54,182.98 675.53,182.57 676.53,182.16 677.54,181.76 678.55,181.36 679.57,180.97 779.72,233.22 780.12,265.50" fill="#282828"/>
<polygon points="779.72,233.22 631.11,211.68 633.16,243.39 780.12,265.50" fill="#282828"/>
<polygon points="779.72,233.22 631.11,211.68 631.64,211.08 632.18,210.49 632.73,209.90 633.29,209.31 633.86,208.72 634.44,208.14 635.03,207.56 635.63,206.98 636.24,206.40 636.86,205.83 637.49,205.26 638.13,204.70 638.78,204.13 639.43,203.57 640.10,203.01 640.77,202.46 641.46,201.91 642.15,201.36 642.85,200.81 643.56,200.27 644.28,199.73 645.01,199.19 645.75,198.66 646.50,198.13 647.25,197.60 648.01,197.07 648.79,196.55 649.57,196.04 650.35,195.52 651.15,195.01 651.96,194.50 652.77,194.00 653.59,193.50 654.42,193.00 655.26,192.51 656.10,192.02 656.95,191.53 657.81,191.05 658.68,190.57 659.56,190.09 660.44,189.62 661.33,189.15 662.23,188.69 663.13,188.22 664.05,187.77 664.96,187.31 665.89,186.86 666.82,186.42 667.76,185.97 668.71,185.53 669.67,185.10 670.63,184.67 671.59,184.24 672.57,183.82 673.55,183.40 674.54,182.98 675.53,182.57 676.53,182.16 677.54,181.76 678.55,181.36 679.57,180.97" fill="#585858"/>
<polygon points="774.29,275.22 613.67,291.42 613.55,290.71 613.44,290.01 613.34,289.30 613.26,288.60 613.19,287.89 613.13,287.19 610.73,254.36 610.69,253.67 610.66,252.98 610.64,252.30 610.63,251.61 610.64,250.92 610.66,250.24 610.69,249.55 610.73,248.87 610.78,248.19 610.85,247.50 610.93,246.82 611.02,246.14 611.13,245.46 611.24,244.78 611.37,244.10 611.51,243.42 611.67,242.75 611.83,242.07 612.01,241.40 612.20,240.72 612.40,240.05 612.61,239.38 612.84,238.71 613.07,238.04 613.32,237.37 613.58,236.71 613.85,236.04 614.14,235.38 614.43,234.72 614.74,234.06 615.06,233.40 615.39,232.75 615.73,232.09 616.08,231.44 616.44,230.79 616.81,230.14 617.20,229.49 617.60,228.85 618.00,228.21 618.42,227.57 618.85,226.93 619.29,226.29 619.74,225.66 620.21,225.03 620.68,224.40 621.16,223.77 621.66,223.14 622.16,222.52 622.67,221.90 623.20,221.28 623.74,220.67 773.82,242.69" fill="#941217"/>
<polygon points="773.82,242.69 611.27,258.48 613.67,291.42 774.29,275.22" fill="#680d10"/>
<polygon points="611.27,258.48 611.15,257.79 611.04,257.11 610.94,256.42 610.86,255.73 610.79,255.04 610.73,254.36 613.13,287.19 613.19,287.89 613.26,288.60 613.34,289.30 613.44,290.01 613.55,290.71 613.67,291.42" fill="url(#g7)"/>
<polygon points="773.82,242.69 611.27,258.48 611.15,257.79 611.04,257.11 610.94,256.42 610.86,255.73 610.79,255.04 610.73,254.36 610.69,253.67 610.66,252.98 610.64,252.30 610.63,251.61 610.64,250.92 610.66,250.24 610.69,249.55 610.73,248.87 610.78,248.19 610.85,247.50 610.93,246.82 611.02,246.14 611.13,245.46 611.24,244.78 611.37,244.10 611.51,243.42 611.67,242.75 611.83,242.07 612.01,241.40 612.20,240.72 612.40,240.05 612.61,239.38 612.84,238.71 613.07,238.04 613.32,237.37 613.58,236.71 613.85,236.04 614.14,235.38 614.43,234.72 614.74,234.06 615.06,233.40 615.39,232.75 615.73,232.09 616.08,231.44 616.44,230.79 616.81,230.14 617.20,229.49 617.60,228.85 618.00,228.21 618.42,227.57 618.85,226.93 619.29,226.29 619.74,225.66 620.21,225.03 620.68,224.40 621.16,223.77 621.66,223.14 622.16,222.52 622.67,221.90 623.20,221.28 623.74,220.67" fill="#e61c24"/>
<polygon points="778.40,286.58 661.35,352.76 660.30,352.21 659.25,351.67 658.22,351.12 657.20,350.56 656.19,350.00 655.19,349.44 654.20,348.87 653.22,348.30 652.26,347.72 651.30,347.14 650.36,346.55 649.43,345.96 648.51,345.37 647.60,344.77 646.70,344.17 645.82,343.56 644.95,342.95 644.09,342.34 643.24,341.72 642.40,341.10 641.57,340.48 640.76,339.85 639.96,339.22 639.17,338.58 638.39,337.94 637.63,337.30 636.88,336.66 636.14,336.01 635.41,335.36 634.70,334.71 633.99,334.05 633.30,333.39 632.63,332.73 631.96,332.06 631.31,331.39 630.67,330.72 630.04,330.05 629.43,329.37 628.83,328.70 628.24,328.02 627.66,327.33 627.10,326.65 626.55,325.96 626.01,325.27 625.49,324.58 624.98,323.89 624.48,323.19 623.99,322.50 623.52,321.80 623.06,321.10 622.61,320.39 622.18,319.69 621.76,318.99 621.35,318.28 620.95,317.57 620.57,316.86 620.20,316.15 619.85,315.44 619.50,314.72 619.17,314.01 618.85,313.29 618.55,312.58 618.26,311.86 617.98,311.14 617.71,310.42 617.46,309.70 617.22,308.98 616.99,308.26 616.78,307.54 616.58,306.82 616.39,306.10 616.21,305.37 616.05,304.65 615.90,303.93 615.76,303.20 613.35,269.97 777.98,253.76" fill="#939393"/>
<polygon points="777.98,253.76 659.39,318.34 661.35,352.76 778.40,286.58" fill="#878787"/>
<polygon points="659.39,318.34 658.33,317.81 657.27,317.28 656.23,316.74 655.19,316.20 654.17,315.65 653.16,315.10 652.16,314.55 651.17,313.99 650.20,313.42 649.23,312.85 648.28,312.28 647.33,311.71 646.40,311.13 645.49,310.54 644.58,309.95 643.68,309.36 642.80,308.77 641.93,308.17 641.07,307.56 640.23,306.96 639.39,306.35 638.57,305.74 637.76,305.12 636.96,304.50 636.18,303.88 635.41,303.25 634.65,302.62 633.90,301.99 633.16,301.35 632.44,300.71 631.73,300.07 631.04,299.43 630.35,298.78 629.68,298.13 629.02,297.48 628.38,296.83 627.74,296.17 627.12,295.51 626.52,294.85 625.92,294.19 625.34,293.52 624.77,292.85 624.22,292.18 623.67,291.51 623.15,290.83 622.63,290.16 622.13,289.48 621.64,288.80 621.16,288.12 620.69,287.43 620.24,286.75 619.81,286.06 619.38,285.37 618.97,284.68 618.57,283.99 618.19,283.30 617.81,282.60 617.45,281.91 617.11,281.21 616.78,280.52 616.46,279.82 616.15,279.12 615.86,278.42 615.58,277.72 615.31,277.02 615.05,276.32 614.81,275.61 614.59,274.91 614.37,274.21 614.17,273.50 613.98,272.80 613.80,272.09 613.64,271.39 613.49,270.68 613.35,269.97 615.76,303.20 615.90,303.93 616.05,304.65 616.21,305.37 616.39,306.10 616.58,306.82 616.78,307.54 616.99,308.26 617.22,308.98 617.46,309.70 617.71,310.42 617.98,311.14 618.26,311.86 618.55,312.58 618.85,313.29 619.17,314.01 619.50,314.72 619.85,315.44 620.20,316.15 620.57,316.86 620.95,317.57 621.35,318.28 621.76,318.99 622.18,319.69 622.61,320.39 623.06,321.10 623.52,321.80 623.99,322.50 624.48,323.19 624.98,323.89 625.49,324.58 626.01,325.27 626.55,325.96 627.10,326.65 627.66,327.33 628.24,328.02 628.83,328.70 629.43,329.37 630.04,330.05 630.67,330.72 631.31,331.39 631.96,332.06 632.63,332.73 633.30,333.39 633.99,334.05 634.70,334.71 635.41,335.36 636.14,336.01 636.88,336.66 637.63,337.30 638.39,337.94 639.17,338.58 639.96,339.22 640.76,339.85 641.57,340.48 642.40,341.10 643.24,341.72 644.09,342.34 644.95,342.95 645.82,343.56 646.70,344.17 647.60,344.77 648.51,345.37 649.43,345.96 650.36,346.55 651.30,347.14 652.26,347.72 653.22,348.30 654.20,348.87 655.19,349.44 656.19,350.00 657.20,350.56 658.22,351.12 659.25,351.67 660.30,352.21 661.35,352.76" fill="url(#g8)"/>
<polygon points="777.98,253.76 659.39,318.34 658.33,317.81 657.27,317.28 656.23,316.74 655.19,316.20 654.17,315.65 653.16,315.10 652.16,314.55 651.17,313.99 650.20,313.42 649.23,312.85 648.28,312.28 647.33,311.71 646.40,311.13 645.49,310.54 644.58,309.95 643.68,309.36 642.80,308.77 641.93,308.17 641.07,307.56 640.23,306.96 639.39,306.35 638.57,305.74 637.76,305.12 636.96,304.50 636.18,303.88 635.41,303.25 634.65,302.62 633.90,301.99 633.16,301.35 632.44,300.71 631.73,300.07 631.04,299.43 630.35,298.78 629.68,298.13 629.02,297.48 628.38,296.83 627.74,296.17 627.12,295.51 626.52,294.85 625.92,294.19 625.34,293.52 624.77,292.85 624.22,292.18 623.67,291.51 623.15,290.83 622.63,290.16 622.13,289.48 621.64,288.80 621.16,288.12 620.69,287.43 620.24,286.75 619.81,286.06 619.38,285.37 618.97,284.68 618.57,283.99 618.19,283.30 617.81,282.60 617.45,281.91 617.11,281.21 616.78,280.52 616.46,279.82 616.15,279.12 615.86,278.42 615.58,277.72 615.31,277.02 615.05,276.32 614.81,275.61 614.59,274.91 614.37,274.21 614.17,273.50 613.98,272.80 613.80,272.09 613.64,271.39 613.49,270.68 613.35,269.97" fill="#bcbcbc"/>
<polygon points="826.18,262.30 825.22,191.21 825.33,160.90 826.60,160.90 827.87,160.91 829.14,160.92 830.40,160.94 831.67,160.96 832.94,160.99 834.21,161.02 835.47,161.05 836.74,161.09 838.01,161.14 839.27,161.19 840.53,161.24 841.80,161.30 843.06,161.36 844.32,161.43 845.58,161.51 846.84,161.59 848.10,161.67 849.36,161.76 850.61,161.85 851.87,161.95 853.12,162.05 854.37,162.15 855.62,162.27 856.87,162.38 858.12,162.50 859.36,162.63 860.60,162.76 861.85,162.89 863.08,163.03 864.32,163.18 865.56,163.32 866.79,163.48 868.02,163.64 869.25,163.80 870.47,163.97 871.70,164.14 872.92,164.31 874.13,164.49 875.35,164.68 876.56,164.87 877.77,165.07 878.98,165.27 880.18,165.47 881.38,165.68 882.58,165.89 883.77,166.11 884.96,166.33 886.15,166.56 887.33,166.79 888.51,167.03 889.69,167.27 890.86,167.51 892.03,167.76 893.20,168.01 894.36,168.27 895.52,168.54 896.67,168.80 897.82,169.08 898.97,169.35 900.11,169.63 901.24,169.92 902.38,170.21 903.51,170.50 904.63,170.80 905.75,171.10 906.86,171.41 907.97,171.72 909.08,172.03 910.18,172.35 911.27,172.68 912.36,173.01 913.45,173.34 914.53,173.68 915.60,174.02 916.67,174.36 917.73,174.71 918.79,175.06 919.85,175.42 920.89,175.78 921.93,176.15 922.97,176.52 924.00,176.90 925.03,177.27 926.04,177.66 927.06,178.04 928.06,178.43 929.06,178.83 930.06,179.23 931.04,179.63 932.03,180.04 933.00,180.45 933.97,180.86 932.68,211.73" fill="#851015"/>
<polygon points="826.32,230.10 825.33,160.90 825.22,191.21 826.18,262.30" fill="#680d10"/>
<polygon points="826.32,230.10 933.97,180.86 932.68,211.73 826.18,262.30" fill="#a21419"/>
<polygon points="826.32,230.10 825.33,160.90 826.60,160.90 827.87,160.91 829.14,160.92 830.40,160.94 831.67,160.96 832.94,160.99 834.21,161.02 835.47,161.05 836.74,161.09 838.01,161.14 839.27,161.19 840.53,161.24 841.80,161.30 843.06,161.36 844.32,161.43 845.58,161.51 846.84,161.59 848.10,161.67 849.36,161.76 850.61,161.85 851.87,161.95 853.12,162.05 854.37,162.15 855.62,162.27 856.87,162.38 858.12,162.50 859.36,162.63 860.60,162.76 861.85,162.89 863.08,163.03 864.32,163.18 865.56,163.32 866.79,163.48 868.02,163.64 869.25,163.80 870.47,163.97 871.70,164.14 872.92,164.31 874.13,164.49 875.35,164.68 876.56,164.87 877.77,165.07 878.98,165.27 880.18,165.47 881.38,165.68 882.58,165.89 883.77,166.11 884.96,166.33 886.15,166.56 887.33,166.79 888.51,167.03 889.69,167.27 890.86,167.51 892.03,167.76 893.20,168.01 894.36,168.27 895.52,168.54 896.67,168.80 897.82,169.08 898.97,169.35 900.11,169.63 901.24,169.92 902.38,170.21 903.51,170.50 904.63,170.80 905.75,171.10 906.86,171.41 907.97,171.72 909.08,172.03 910.18,172.35 911.27,172.68 912.36,173.01 913.45,173.34 914.53,173.68 915.60,174.02 916.67,174.36 917.73,174.71 918.79,175.06 919.85,175.42 920.89,175.78 921.93,176.15 922.97,176.52 924.00,176.90 925.03,177.27 926.04,177.66 927.06,178.04 928.06,178.43 929.06,178.83 930.06,179.23 931.04,179.63 932.03,180.04 933.00,180.45 933.97,180.86" fill="#e61c24"/>
<polygon points="984.77,259.65 829.63,272.34 829.81,239.88 938.44,189.53 939.41,189.95 940.37,190.38 941.33,190.82 942.28,191.25 943.22,191.70 944.16,192.14 945.09,192.59 946.02,193.04 946.93,193.50 947.84,193.96 948.74,194.43 949.64,194.89 950.52,195.37 951.40,195.84 952.28,196.32 953.14,196.80 954.00,197.29 954.85,197.78 955.69,198.27 956.52,198.77 957.35,199.27 958.16,199.78 958.97,200.28 959.77,200.79 960.57,201.31 961.35,201.83 962.13,202.35 962.90,202.87 963.66,203.40 964.41,203.93 965.15,204.47 965.88,205.00 966.61,205.55 967.33,206.09 968.03,206.64 968.73,207.19 969.42,207.74 970.10,208.30 970.77,208.86 971.44,209.42 972.09,209.98 972.73,210.55 973.37,211.12 973.99,211.70 974.61,212.27 975.21,212.85 975.81,213.44 976.39,214.02 976.97,214.61 977.54,215.20 978.10,215.79 978.64,216.39 979.18,216.99 979.71,217.59 980.22,218.19 980.73,218.80 981.23,219.41 981.72,220.02 982.19,220.63 982.66,221.24 983.11,221.86 983.56,222.48 983.99,223.10 984.42,223.73 984.83,224.35 985.23,224.98 985.62,225.61 986.01,226.24 986.38,226.88 986.74,227.51" fill="#282828"/>
<polygon points="829.81,239.88 986.74,227.51 984.77,259.65 829.63,272.34" fill="#282828"/>
<polygon points="829.81,239.88 938.44,189.53 939.41,189.95 940.37,190.38 941.33,190.82 942.28,191.25 943.22,191.70 944.16,192.14 945.09,192.59 946.02,193.04 946.93,193.50 947.84,193.96 948.74,194.43 949.64,194.89 950.52,195.37 951.40,195.84 952.28,196.32 953.14,196.80 954.00,197.29 954.85,197.78 955.69,198.27 956.52,198.77 957.35,199.27 958.16,199.78 958.97,200.28 959.77,200.79 960.57,201.31 961.35,201.83 962.13,202.35 962.90,202.87 963.66,203.40 964.41,203.93 965.15,204.47 965.88,205.00 966.61,205.55 967.33,206.09 968.03,206.64 968.73,207.19 969.42,207.74 970.10,208.30 970.77,208.86 971.44,209.42 972.09,209.98 972.73,210.55 973.37,211.12 973.99,211.70 974.61,212.27 975.21,212.85 975.81,213.44 976.39,214.02 976.97,214.61 977.54,215.20 978.10,215.79 978.64,216.39 979.18,216.99 979.71,217.59 980.22,218.19 980.73,218.80 981.23,219.41 981.72,220.02 982.19,220.63 982.66,221.24 983.11,221.86 983.56,222.48 983.99,223.10 984.42,223.73 984.83,224.35 985.23,224.98 985.62,225.61 986.01,226.24 986.38,226.88 986.74,227.51" fill="#585858"/>
<polygon points="958.44,320.25 815.11,276.23 815.12,243.68 972.94,231.20 973.28,231.85 973.61,232.49 973.93,233.14 974.23,233.79 974.53,234.44 974.81,235.10 975.08,235.75 975.35,236.41 975.60,237.07 975.83,237.72 976.06,238.39 976.28,239.05 976.48,239.71 976.67,240.38 976.85,241.04 977.02,241.71 977.18,242.38 977.32,243.05 977.45,243.72 977.58,244.40 977.68,245.07 977.78,245.74 977.87,246.42 977.94,247.09 978.00,247.77 978.05,248.45 978.09,249.13 978.11,249.81 978.12,250.49 978.12,251.17 978.11,251.85 978.09,252.53 978.05,253.21 976.13,286.01 976.08,286.71 976.02,287.41 975.94,288.11 975.85,288.81 975.76,289.51 975.64,290.21 975.52,290.91 975.39,291.61 975.24,292.31 975.08,293.01 974.90,293.71 974.72,294.41 974.52,295.11 974.31,295.81 974.09,296.51 973.85,297.21 973.61,297.90 973.34,298.60 973.07,299.30 972.79,299.99 972.49,300.69 972.18,301.38 971.86,302.07 971.52,302.77 971.17,303.46 970.81,304.15 970.44,304.84 970.06,305.53 969.66,306.21 969.25,306.90 968.83,307.58 968.39,308.26 967.94,308.95 967.48,309.63 967.01,310.30 966.53,310.98 966.03,311.65 965.52,312.33 965.00,313.00 964.46,313.67 963.91,314.34 963.36,315.00 962.78,315.66 962.20,316.33 961.60,316.98 960.99,317.64 960.37,318.30 959.74,318.95 959.10,319.60" fill="#535353"/>
<polygon points="815.12,243.68 960.22,286.60 958.44,320.25 815.11,276.23" fill="#555555"/>
<polygon points="978.05,253.21 978.00,253.89 977.94,254.57 977.87,255.25 977.78,255.94 977.68,256.62 977.57,257.30 977.45,257.99 977.31,258.67 977.16,259.35 977.00,260.03 976.83,260.72 976.64,261.40 976.45,262.08 976.23,262.76 976.01,263.44 975.77,264.12 975.53,264.81 975.26,265.49 974.99,266.16 974.70,266.84 974.40,267.52 974.09,268.20 973.76,268.87 973.43,269.55 973.08,270.22 972.71,270.90 972.34,271.57 971.95,272.24 971.55,272.91 971.13,273.58 970.71,274.25 970.27,274.91 969.82,275.58 969.35,276.24 968.88,276.90 968.39,277.56 967.89,278.22 967.37,278.88 966.84,279.53 966.30,280.18 965.75,280.83 965.19,281.48 964.61,282.13 964.02,282.78 963.42,283.42 962.80,284.06 962.17,284.70 961.53,285.34 960.88,285.97 960.22,286.60 958.44,320.25 959.10,319.60 959.74,318.95 960.37,318.30 960.99,317.64 961.60,316.98 962.20,316.33 962.78,315.66 963.36,315.00 963.91,314.34 964.46,313.67 965.00,313.00 965.52,312.33 966.03,311.65 966.53,310.98 967.01,310.30 967.48,309.63 967.94,308.95 968.39,308.26 968.83,307.58 969.25,306.90 969.66,306.21 970.06,305.53 970.44,304.84 970.81,304.15 971.17,303.46 971.52,302.77 971.86,302.07 972.18,301.38 972.49,300.69 972.79,299.99 973.07,299.30 973.34,298.60 973.61,297.90 973.85,297.21 974.09,296.51 974.31,295.81 974.52,295.11 974.72,294.41 974.90,293.71 975.08,293.01 975.24,292.31 975.39,291.61 975.52,290.91 975.64,290.21 975.76,289.51 975.85,288.81 975.94,288.11 976.02,287.41 976.08,286.71 976.13,286.01" fill="url(#g9)"/>
<polygon points="815.12,243.68 972.94,231.20 973.28,231.85 973.61,232.49 973.93,233.14 974.23,233.79 974.53,234.44 974.81,235.10 975.08,235.75 975.35,236.41 975.60,237.07 975.83,237.72 976.06,238.39 976.28,239.05 976.48,239.71 976.67,240.38 976.85,241.04 977.02,241.71 977.18,242.38 977.32,243.05 977.45,243.72 977.58,244.40 977.68,245.07 977.78,245.74 977.87,246.42 977.94,247.09 978.00,247.77 978.05,248.45 978.09,249.13 978.11,249.81 978.12,250.49 978.12,251.17 978.11,251.85 978.09,252.53 978.05,253.21 978.00,253.89 977.94,254.57 977.87,255.25 977.78,255.94 977.68,256.62 977.57,257.30 977.45,257.99 977.31,258.67 977.16,259.35 977.00,260.03 976.83,260.72 976.64,261.40 976.45,262.08 976.23,262.76 976.01,263.44 975.77,264.12 975.53,264.81 975.26,265.49 974.99,266.16 974.70,266.84 974.40,267.52 974.09,268.20 973.76,268.87 973.43,269.55 973.08,270.22 972.71,270.90 972.34,271.57 971.95,272.24 971.55,272.91 971.13,273.58 970.71,274.25 970.27,274.91 969.82,275.58 969.35,276.24 968.88,276.90 968.39,277.56 967.89,278.22 967.37,278.88 966.84,279.53 966.30,280.18 965.75,280.83 965.19,281.48 964.61,282.13 964.02,282.78 963.42,283.42 962.80,284.06 962.17,284.70 961.53,285.34 960.88,285.97 960.22,286.60" fill="#bcbcbc"/>
<polygon points="850.22,384.86 835.64,293.70 835.90,260.71 985.10,305.40 982.97,339.51 982.30,340.19 981.61,340.86 980.91,341.53 980.21,342.20 979.48,342.87 978.75,343.53 978.00,344.19 977.24,344.85 976.47,345.50 975.69,346.15 974.89,346.80 974.08,347.44 973.26,348.08 972.43,348.72 971.58,349.35 970.72,349.98 969.85,350.61 968.97,351.23 968.08,351.85 967.18,352.46 966.26,353.07 965.33,353.68 964.39,354.28 963.44,354.88 962.48,355.47 961.50,356.06 960.51,356.64 959.52,357.23 958.51,357.80 957.49,358.37 956.46,358.94 955.42,359.50 954.36,360.06 953.30,360.61 952.23,361.16 951.14,361.71 950.05,362.24 948.94,362.78 947.82,363.31 946.70,363.83 945.56,364.35 944.41,364.86 943.25,365.37 942.09,365.87 940.91,366.37 939.72,366.86 938.52,367.34 937.32,367.82 936.10,368.30 934.88,368.77 933.64,369.23 932.40,369.69 931.14,370.14 929.88,370.59 928.61,371.03 927.33,371.46 926.04,371.89 924.74,372.31 923.44,372.73 922.13,373.14 920.80,373.54 919.47,373.94 918.14,374.33 916.79,374.71 915.44,375.09 914.07,375.46 912.71,375.83 911.33,376.19 909.95,376.54 908.56,376.88 907.16,377.22 905.75,377.55 904.34,377.88 902.92,378.20 901.50,378.51 900.07,378.82 898.63,379.11 897.19,379.40 895.74,379.69 894.29,379.97 892.83,380.24 891.36,380.50 889.89,380.76 888.41,381.01 886.93,381.25 885.45,381.48 883.95,381.71 882.46,381.93 880.96,382.14 879.45,382.35 877.94,382.55 876.43,382.74 874.91,382.92 873.39,383.10 871.87,383.27 870.34,383.43 868.81,383.59 867.27,383.73 865.73,383.87 864.19,384.01 862.65,384.13 861.10,384.25 859.55,384.36 858.00,384.46 856.45,384.55 854.89,384.64 853.34,384.72 851.78,384.79" fill="#650c10"/>
<polygon points="835.90,260.71 850.69,349.71 850.22,384.86 835.64,293.70" fill="#680d10"/>
<polygon points="985.10,305.40 984.42,306.07 983.72,306.72 983.02,307.38 982.30,308.03 981.57,308.68 980.83,309.33 980.08,309.98 979.31,310.62 978.53,311.25 977.74,311.89 976.93,312.52 976.11,313.15 975.28,313.78 974.44,314.40 973.59,315.02 972.72,315.63 971.84,316.24 970.95,316.85 970.04,317.45 969.13,318.05 968.20,318.65 967.26,319.24 966.31,319.83 965.35,320.41 964.38,320.99 963.39,321.57 962.39,322.14 961.38,322.71 960.36,323.27 959.33,323.83 958.29,324.38 957.23,324.93 956.17,325.48 955.09,326.02 954.01,326.55 952.91,327.08 951.80,327.61 950.68,328.13 949.55,328.65 948.41,329.16 947.26,329.66 946.10,330.16 944.92,330.66 943.74,331.15 942.55,331.64 941.35,332.12 940.14,332.59 938.91,333.06 937.68,333.52 936.44,333.98 935.19,334.44 933.93,334.88 932.66,335.32 931.39,335.76 930.10,336.19 928.80,336.61 927.50,337.03 926.19,337.44 924.86,337.85 923.53,338.25 922.20,338.65 920.85,339.03 919.49,339.42 918.13,339.79 916.76,340.16 915.38,340.52 913.99,340.88 912.60,341.23 911.20,341.58 909.79,341.91 908.38,342.24 906.95,342.57 905.52,342.89 904.09,343.20 902.65,343.50 901.20,343.80 899.74,344.09 898.28,344.38 896.81,344.66 895.34,344.93 893.86,345.19 892.37,345.45 890.88,345.70 889.39,345.94 887.89,346.18 886.38,346.41 884.87,346.63 883.36,346.85 881.84,347.06 880.31,347.26 878.78,347.45 877.25,347.64 875.71,347.82 874.17,347.99 872.63,348.16 871.08,348.31 869.53,348.47 867.97,348.61 866.41,348.75 864.85,348.87 863.29,349.00 861.72,349.11 860.15,349.22 858.58,349.32 857.01,349.41 855.43,349.50 853.85,349.57 852.27,349.64 850.69,349.71 850.22,384.86 851.78,384.79 853.34,384.72 854.89,384.64 856.45,384.55 858.00,384.46 859.55,384.36 861.10,384.25 862.65,384.13 864.19,384.01 865.73,383.87 867.27,383.73 868.81,383.59 870.34,383.43 871.87,383.27 873.39,383.10 874.91,382.92 876.43,382.74 877.94,382.55 879.45,382.35 880.96,382.14 882.46,381.93 883.95,381.71 885.45,381.48 886.93,381.25 888.41,381.01 889.89,380.76 891.36,380.50 892.83,380.24 894.29,379.97 895.74,379.69 897.19,379.40 898.63,379.11 900.07,378.82 901.50,378.51 902.92,378.20 904.34,377.88 905.75,377.55 907.16,377.22 908.56,376.88 909.95,376.54 911.33,376.19 912.71,375.83 914.07,375.46 915.44,375.09 916.79,374.71 918.14,374.33 919.47,373.94 920.80,373.54 922.13,373.14 923.44,372.73 924.74,372.31 926.04,371.89 927.33,371.46 928.61,371.03 929.88,370.59 931.14,370.14 932.40,369.69 933.64,369.23 934.88,368.77 936.10,368.30 937.32,367.82 938.52,367.34 939.72,366.86 940.91,366.37 942.09,365.87 943.25,365.37 944.41,364.86 945.56,364.35 946.70,363.83 947.82,363.31 948.94,362.78 950.05,362.24 951.14,361.71 952.23,361.16 953.30,360.61 954.36,360.06 955.42,359.50 956.46,358.94 957.49,358.37 958.51,357.80 959.52,357.23 960.51,356.64 961.50,356.06 962.48,355.47 963.44,354.88 964.39,354.28 965.33,353.68 966.26,353.07 967.18,352.46 968.08,351.85 968.97,351.23 969.85,350.61 970.72,349.98 971.58,349.35 972.43,348.72 973.26,348.08 974.08,347.44 974.89,346.80 975.69,346.15 976.47,345.50 977.24,344.85 978.00,344.19 978.75,343.53 979.48,342.87 980.21,342.20 980.91,341.53 981.61,340.86 982.30,340.19 982.97,339.51" fill="url(#g10)"/>
<polygon points="835.90,260.71 985.10,305.40 984.42,306.07 983.72,306.72 983.02,307.38 982.30,308.03 981.57,308.68 980.83,309.33 980.08,309.98 979.31,310.62 978.53,311.25 977.74,311.89 976.93,312.52 976.11,313.15 975.28,313.78 974.44,314.40 973.59,315.02 972.72,315.63 971.84,316.24 970.95,316.85 970.04,317.45 969.13,318.05 968.20,318.65 967.26,319.24 966.31,319.83 965.35,320.41 964.38,320.99 963.39,321.57 962.39,322.14 961.38,322.71 960.36,323.27 959.33,323.83 958.29,324.38 957.23,324.93 956.17,325.48 955.09,326.02 954.01,326.55 952.91,327.08 951.80,327.61 950.68,328.13 949.55,328.65 948.41,329.16 947.26,329.66 946.10,330.16 944.92,330.66 943.74,331.15 942.55,331.64 941.35,332.12 940.14,332.59 938.91,333.06 937.68,333.52 936.44,333.98 935.19,334.44 933.93,334.88 932.66,335.32 931.39,335.76 930.10,336.19 928.80,336.61 927.50,337.03 926.19,337.44 924.86,337.85 923.53,338.25 922.20,338.65 920.85,339.03 919.49,339.42 918.13,339.79 916.76,340.16 915.38,340.52 913.99,340.88 912.60,341.23 911.20,341.58 909.79,341.91 908.38,342.24 906.95,342.57 905.52,342.89 904.09,343.20 902.65,343.50 901.20,343.80 899.74,344.09 898.28,344.38 896.81,344.66 895.34,344.93 893.86,345.19 892.37,345.45 890.88,345.70 889.39,345.94 887.89,346.18 886.38,346.41 884.87,346.63 883.36,346.85 881.84,347.06 880.31,347.26 878.78,347.45 877.25,347.64 875.71,347.82 874.17,347.99 872.63,348.16 871.08,348.31 869.53,348.47 867.97,348.61 866.41,348.75 864.85,348.87 863.29,349.00 861.72,349.11 860.15,349.22 858.58,349.32 857.01,349.41 855.43,349.50 853.85,349.57 852.27,349.64 850.69,349.71" fill="#e61c24"/>
<polygon points="682.56,328.99 800.78,262.98 812.03,352.47 812.06,387.68 810.49,387.74 808.91,387.79 807.34,387.83 805.76,387.86 804.19,387.89 802.61,387.91 801.04,387.92 799.46,387.92 797.88,387.92 796.31,387.91 794.73,387.89 793.16,387.86 791.59,387.82 790.01,387.78 788.44,387.73 786.87,387.67 785.30,387.61 783.73,387.53 782.17,387.45 780.60,387.36 779.04,387.26 777.48,387.16 775.92,387.05 774.37,386.93 772.81,386.80 771.26,386.67 769.72,386.53 768.17,386.38 766.63,386.22 765.10,386.05 763.56,385.88 762.03,385.70 760.51,385.52 758.98,385.32 757.46,385.12 755.95,384.91 754.44,384.69 752.94,384.47 751.44,384.24 749.94,384.00 748.45,383.75 746.96,383.50 745.48,383.24 744.01,382.97 742.54,382.70 741.08,382.42 739.62,382.13 738.17,381.83 736.72,381.53 735.28,381.22 733.85,380.91 732.42,380.58 731.00,380.25 729.59,379.92 728.18,379.57 726.78,379.22 725.39,378.87 724.01,378.50 722.63,378.13 721.26,377.76 719.90,377.37 718.54,376.98 717.20,376.59 715.86,376.19 714.53,375.78 713.21,375.36 711.89,374.94 710.59,374.51 709.29,374.08 708.00,373.64 706.73,373.20 705.46,372.75 704.19,372.29 702.94,371.83 701.70,371.36 700.47,370.88 699.24,370.40 698.03,369.92 696.83,369.42 695.63,368.93 694.45,368.42 693.27,367.92 692.11,367.40 690.95,366.88 689.81,366.36 688.67,365.83 687.55,365.30 686.44,364.76 685.33,364.21 684.24,363.66" fill="#3b3b3b"/>
<polygon points="812.03,352.47 810.44,352.52 808.84,352.57 807.25,352.61 805.65,352.65 804.05,352.67 802.46,352.69 800.86,352.70 799.26,352.70 797.67,352.70 796.07,352.69 794.47,352.67 792.88,352.64 791.28,352.61 789.69,352.56 788.10,352.52 786.51,352.46 784.92,352.39 783.33,352.32 781.74,352.24 780.16,352.16 778.57,352.06 776.99,351.96 775.41,351.85 773.84,351.73 772.26,351.61 770.69,351.48 769.13,351.34 767.56,351.19 766.00,351.04 764.44,350.88 762.89,350.71 761.34,350.53 759.79,350.35 758.25,350.16 756.71,349.96 755.18,349.76 753.65,349.55 752.12,349.33 750.60,349.10 749.09,348.87 747.58,348.63 746.07,348.38 744.58,348.13 743.08,347.87 741.59,347.60 740.11,347.32 738.63,347.04 737.16,346.75 735.70,346.46 734.24,346.15 732.79,345.85 731.34,345.53 729.91,345.21 728.48,344.88 727.05,344.54 725.63,344.20 724.22,343.85 722.82,343.50 721.43,343.13 720.04,342.77 718.66,342.39 717.29,342.01 715.92,341.63 714.57,341.23 713.22,340.83 711.88,340.43 710.55,340.02 709.23,339.60 707.92,339.18 706.61,338.75 705.32,338.31 704.03,337.87 702.76,337.42 701.49,336.97 700.23,336.51 698.98,336.05 697.74,335.58 696.52,335.10 695.30,334.62 694.09,334.14 692.89,333.65 691.70,333.15 690.52,332.65 689.35,332.14 688.19,331.63 687.04,331.11 685.91,330.59 684.78,330.06 683.66,329.53 682.56,328.99 684.24,363.66 685.33,364.21 686.44,364.76 687.55,365.30 688.67,365.83 689.81,366.36 690.95,366.88 692.11,367.40 693.27,367.92 694.45,368.42 695.63,368.93 696.83,369.42 698.03,369.92 699.24,370.40 700.47,370.88 701.70,371.36 702.94,371.83 704.19,372.29 705.46,372.75 706.73,373.20 708.00,373.64 709.29,374.08 710.59,374.51 711.89,374.94 713.21,375.36 714.53,375.78 715.86,376.19 717.20,376.59 718.54,376.98 719.90,377.37 721.26,377.76 722.63,378.13 724.01,378.50 725.39,378.87 726.78,379.22 728.18,379.57 729.59,379.92 731.00,380.25 732.42,380.58 733.85,380.91 735.28,381.22 736.72,381.53 738.17,381.83 739.62,382.13 741.08,382.42 742.54,382.70 744.01,382.97 745.48,383.24 746.96,383.50 748.45,383.75 749.94,384.00 751.44,384.24 752.94,384.47 754.44,384.69 755.95,384.91 757.46,385.12 758.98,385.32 760.51,385.52 762.03,385.70 763.56,385.88 765.10,386.05 766.63,386.22 768.17,386.38 769.72,386.53 771.26,386.67 772.81,386.80 774.37,386.93 775.92,387.05 777.48,387.16 779.04,387.26 780.60,387.36 782.17,387.45 783.73,387.53 785.30,387.61 786.87,387.67 788.44,387.73 790.01,387.78 791.59,387.82 793.16,387.86 794.73,387.89 796.31,387.91 797.88,387.92 799.46,387.92 801.04,387.92 802.61,387.91 804.19,387.89 805.76,387.86 807.34,387.83 808.91,387.79 810.49,387.74 812.06,387.68" fill="url(#g11)"/>
<polygon points="800.78,262.98 812.03,352.47 810.44,352.52 808.84,352.57 807.25,352.61 805.65,352.65 804.05,352.67 802.46,352.69 800.86,352.70 799.26,352.70 797.67,352.70 796.07,352.69 794.47,352.67 792.88,352.64 791.28,352.61 789.69,352.56 788.10,352.52 786.51,352.46 784.92,352.39 783.33,352.32 781.74,352.24 780.16,352.16 778.57,352.06 776.99,351.96 775.41,351.85 773.84,351.73 772.26,351.61 770.69,351.48 769.13,351.34 767.56,351.19 766.00,351.04 764.44,350.88 762.89,350.71 761.34,350.53 759.79,350.35 758.25,350.16 756.71,349.96 755.18,349.76 753.65,349.55 752.12,349.33 750.60,349.10 749.09,348.87 747.58,348.63 746.07,348.38 744.58,348.13 743.08,347.87 741.59,347.60 740.11,347.32 738.63,347.04 737.16,346.75 735.70,346.46 734.24,346.15 732.79,345.85 731.34,345.53 729.91,345.21 728.48,344.88 727.05,344.54 725.63,344.20 724.22,343.85 722.82,343.50 721.43,343.13 720.04,342.77 718.66,342.39 717.29,342.01 715.92,341.63 714.57,341.23 713.22,340.83 711.88,340.43 710.55,340.02 709.23,339.60 707.92,339.18 706.61,338.75 705.32,338.31 704.03,337.87 702.76,337.42 701.49,336.97 700.23,336.51 698.98,336.05 697.74,335.58 696.52,335.10 695.30,334.62 694.09,334.14 692.89,333.65 691.70,333.15 690.52,332.65 689.35,332.14 688.19,331.63 687.04,331.11 685.91,330.59 684.78,330.06 683.66,329.53 682.56,328.99" fill="#585858"/>
<polyline points="76.0,348.5 86.5,348.5 86.5,339.5"/>
<polyline points="243.5,384 243.5,400.8"/>
<polyline points="896.0,138.5 884.5,138.5 883.8,166"/>
<polyline points="983.0,193.5 973.5,193.5 967.5,206.5"/>
<polyline points="1016.5,301.5 1005.0,301.5 974.5,292.8"/>
<polyline points="928.5,372 928.5,396.2"/>
<polyline points="742.5,381 742.5,400.8"/>
<text x="199.79" y="130.60" textLength="55.54" lengthAdjust="spacingAndGlyphs">ЮВАО</text>
<text x="207.60" y="152.30" textLength="40.43" lengthAdjust="spacingAndGlyphs">3,8%</text>
<text x="345.59" y="136.30" textLength="37.76" lengthAdjust="spacingAndGlyphs">ВАО</text>
<text x="339.20" y="157.80" textLength="50.36" lengthAdjust="spacingAndGlyphs">17,7%</text>
<text x="87.19" y="152.00" textLength="39.15" lengthAdjust="spacingAndGlyphs">ЦАО</text>
<text x="81.61" y="173.40" textLength="49.15" lengthAdjust="spacingAndGlyphs">14,8%</text>
<text x="4.60" y="226.70" textLength="49.02" lengthAdjust="spacingAndGlyphs">СЗАО</text>
<text x="3.80" y="248.10" textLength="50.16" lengthAdjust="spacingAndGlyphs">10,2%</text>
<text x="470.40" y="277.60" textLength="35.65" lengthAdjust="spacingAndGlyphs">ЗАО</text>
<text x="462.80" y="299.00" textLength="50.16" lengthAdjust="spacingAndGlyphs">19,4%</text>
<text x="32.40" y="349.60" textLength="37.74" lengthAdjust="spacingAndGlyphs">САО</text>
<text x="26.40" y="371.40" textLength="50.16" lengthAdjust="spacingAndGlyphs">14,1%</text>
<text x="118.79" y="405.50" textLength="54.93" lengthAdjust="spacingAndGlyphs">ЮЗАО</text>
<text x="126.00" y="427.10" textLength="41.13" lengthAdjust="spacingAndGlyphs">4,3%</text>
<text x="257.97" y="412.20" textLength="44.58" lengthAdjust="spacingAndGlyphs">ЮАО</text>
<text x="260.40" y="433.00" textLength="40.33" lengthAdjust="spacingAndGlyphs">4,5%</text>
<text x="352.80" y="393.60" textLength="50.34" lengthAdjust="spacingAndGlyphs">СВАО</text>
<text x="352.40" y="415.40" textLength="50.26" lengthAdjust="spacingAndGlyphs">11,2%</text>
<text x="703.19" y="125.00" textLength="56.05" lengthAdjust="spacingAndGlyphs">ЮВАО</text>
<text x="707.60" y="146.20" textLength="49.76" lengthAdjust="spacingAndGlyphs">11,9%</text>
<text x="907.21" y="117.40" textLength="36.85" lengthAdjust="spacingAndGlyphs">ВАО</text>
<text x="899.18" y="138.40" textLength="51.38" lengthAdjust="spacingAndGlyphs">12,8%</text>
<text x="989.40" y="171.40" textLength="35.85" lengthAdjust="spacingAndGlyphs">ЗАО</text>
<text x="987.20" y="192.40" textLength="40.43" lengthAdjust="spacingAndGlyphs">9,6%</text>
<text x="605.19" y="165.70" textLength="39.15" lengthAdjust="spacingAndGlyphs">ЦАО</text>
<text x="603.19" y="186.50" textLength="41.24" lengthAdjust="spacingAndGlyphs">8,4%</text>
<text x="560.40" y="216.30" textLength="49.42" lengthAdjust="spacingAndGlyphs">СЗАО</text>
<text x="564.79" y="237.80" textLength="41.03" lengthAdjust="spacingAndGlyphs">7,9%</text>
<text x="584.40" y="351.00" textLength="37.74" lengthAdjust="spacingAndGlyphs">САО</text>
<text x="578.40" y="372.30" textLength="50.26" lengthAdjust="spacingAndGlyphs">10,4%</text>
<text x="741.00" y="418.40" textLength="54.42" lengthAdjust="spacingAndGlyphs">ЮЗАО</text>
<text x="743.60" y="440.40" textLength="49.45" lengthAdjust="spacingAndGlyphs">12,5%</text>
<text x="947.20" y="393.50" textLength="43.03" lengthAdjust="spacingAndGlyphs">ЮАО</text>
<text x="944.00" y="415.40" textLength="50.56" lengthAdjust="spacingAndGlyphs">15,1%</text>
<text x="1020.99" y="280.70" textLength="51.37" lengthAdjust="spacingAndGlyphs">СВАО</text>
<text x="1020.40" y="302.30" textLength="50.06" lengthAdjust="spacingAndGlyphs">11,4%</text>
<text class="b" x="70.00" y="33.20" textLength="119.54" lengthAdjust="spacingAndGlyphs">Структура</text>
<text class="b" x="202.20" y="33.20" textLength="185.51" lengthAdjust="spacingAndGlyphs">распределения</text>
<text class="b" x="399.02" y="33.20" textLength="59.69" lengthAdjust="spacingAndGlyphs">школ</text>
<text class="b" x="468.43" y="33.20" textLength="28.01" lengthAdjust="spacingAndGlyphs">по</text>
<text class="b" x="181.20" y="61.70" textLength="91.75" lengthAdjust="spacingAndGlyphs">округам</text>
<text class="b" x="284.60" y="61.70" textLength="101.22" lengthAdjust="spacingAndGlyphs">Москвы,</text>
<text class="b" x="626.51" y="33.20" textLength="118.99" lengthAdjust="spacingAndGlyphs">Структура</text>
<text class="b" x="757.79" y="33.20" textLength="186.41" lengthAdjust="spacingAndGlyphs">распределения</text>
<text class="b" x="955.02" y="33.20" textLength="53.04" lengthAdjust="spacingAndGlyphs">ДОУ</text>
<text class="b" x="1013.66" y="33.20" textLength="27.80" lengthAdjust="spacingAndGlyphs">по</text>
<text class="b" x="731.41" y="61.50" textLength="92.66" lengthAdjust="spacingAndGlyphs">округам</text>
<text class="b" x="836.01" y="61.50" textLength="101.02" lengthAdjust="spacingAndGlyphs">Москвы,</text>
<rect x="339.76" y="155.10" width="3.92" height="3.60" fill="#fff"/>
<rect x="345.25" y="155.10" width="3.78" height="3.60" fill="#fff"/>
<rect x="82.13" y="170.70" width="3.85" height="3.60" fill="#fff"/>
<rect x="87.51" y="170.70" width="3.71" height="3.60" fill="#fff"/>
<rect x="4.35" y="245.40" width="3.91" height="3.60" fill="#fff"/>
<rect x="9.83" y="245.40" width="3.77" height="3.60" fill="#fff"/>
<rect x="463.35" y="296.30" width="3.91" height="3.60" fill="#fff"/>
<rect x="468.83" y="296.30" width="3.77" height="3.60" fill="#fff"/>
<rect x="26.95" y="368.70" width="3.91" height="3.60" fill="#fff"/>
<rect x="32.43" y="368.70" width="3.77" height="3.60" fill="#fff"/>
<rect x="51.53" y="368.70" width="3.91" height="3.60" fill="#fff"/>
<rect x="57.01" y="368.70" width="3.77" height="3.60" fill="#fff"/>
<rect x="352.95" y="412.70" width="3.91" height="3.60" fill="#fff"/>
<rect x="358.44" y="412.70" width="3.78" height="3.60" fill="#fff"/>
<rect x="362.80" y="412.70" width="3.91" height="3.60" fill="#fff"/>
<rect x="368.29" y="412.70" width="3.78" height="3.60" fill="#fff"/>
<rect x="708.14" y="143.50" width="3.88" height="3.60" fill="#fff"/>
<rect x="713.58" y="143.50" width="3.75" height="3.60" fill="#fff"/>
<rect x="717.89" y="143.50" width="3.88" height="3.60" fill="#fff"/>
<rect x="723.33" y="143.50" width="3.75" height="3.60" fill="#fff"/>
<rect x="899.76" y="135.70" width="3.98" height="3.60" fill="#fff"/>
<rect x="905.35" y="135.70" width="3.84" height="3.60" fill="#fff"/>
<rect x="578.95" y="369.60" width="3.91" height="3.60" fill="#fff"/>
<rect x="584.44" y="369.60" width="3.78" height="3.60" fill="#fff"/>
<rect x="744.13" y="437.70" width="3.86" height="3.60" fill="#fff"/>
<rect x="749.54" y="437.70" width="3.73" height="3.60" fill="#fff"/>
<rect x="944.56" y="412.70" width="3.93" height="3.60" fill="#fff"/>
<rect x="950.07" y="412.70" width="3.79" height="3.60" fill="#fff"/>
<rect x="969.34" y="412.70" width="3.93" height="3.60" fill="#fff"/>
<rect x="974.85" y="412.70" width="3.79" height="3.60" fill="#fff"/>
<rect x="1020.95" y="299.60" width="3.90" height="3.60" fill="#fff"/>
<rect x="1026.41" y="299.60" width="3.76" height="3.60" fill="#fff"/>
<rect x="1030.76" y="299.60" width="3.90" height="3.60" fill="#fff"/>
<rect x="1036.22" y="299.60" width="3.76" height="3.60" fill="#fff"/>
</svg>
</body></html>
